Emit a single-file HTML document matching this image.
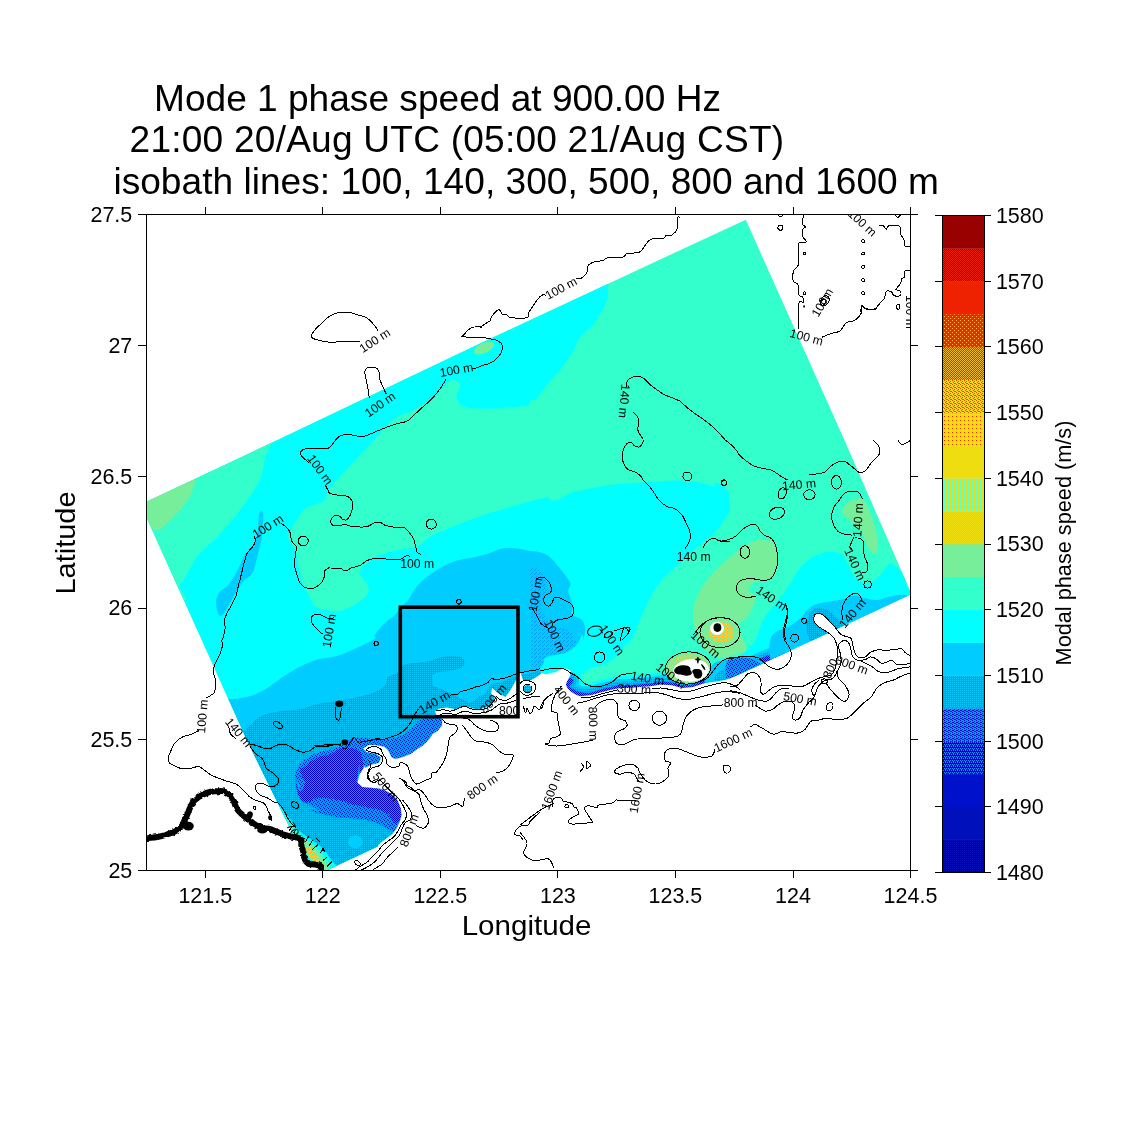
<!DOCTYPE html>
<html><head><meta charset="utf-8"><title>Mode 1 phase speed</title>
<style>html,body{margin:0;padding:0;background:#fff}svg{display:block;will-change:transform}</style></head>
<body>
<svg width="1125" height="1125" viewBox="0 0 1125 1125" font-family="'Liberation Sans', Arial, sans-serif">
<rect width="1125" height="1125" fill="#fff"/>
<defs>
<clipPath id="ax"><rect x="146.5" y="214.5" width="764.0" height="656.0"/></clipPath>
<clipPath id="dom"><path d="M140.7 504.5 L277.6 440.0 L480.0 343.4 L530.0 320.3 L680.0 250.2 L745.8 219.8 L844.4 440.0 L911.5 594.0 L898.9 600.0 L730.0 678.6 L379.6 845.5 L336.9 865.6 L310.0 878.5 L289.6 827.1 L246.8 740.0 L201.8 640.0Z"/></clipPath>
<filter id="rough" x="-5%" y="-5%" width="110%" height="110%"><feTurbulence type="fractalNoise" baseFrequency="0.3" numOctaves="2" seed="7" result="n"/><feDisplacementMap in="SourceGraphic" in2="n" scale="3.2" xChannelSelector="R" yChannelSelector="G"/></filter>
<pattern id="dB2" width="2" height="2" patternUnits="userSpaceOnUse"><rect width="2" height="2" fill="#0099ff"/><rect x="0" y="0" width="1" height="1" fill="#00ccff"/></pattern>
<pattern id="dB1" width="4" height="4" patternUnits="userSpaceOnUse"><rect width="4" height="4" fill="#00ccff"/><rect x="0" y="0" width="1" height="1" fill="#0099ff"/><rect x="2" y="2" width="1" height="1" fill="#0099ff"/><rect x="3" y="1" width="1" height="1" fill="#0099ff"/></pattern>
<pattern id="dB3" width="4" height="4" patternUnits="userSpaceOnUse"><rect width="4" height="4" fill="#0099ff"/><rect x="0" y="0" width="1" height="1" fill="#0000cc"/><rect x="2" y="1" width="1" height="1" fill="#0000cc"/><rect x="1" y="2" width="1" height="1" fill="#0000cc"/><rect x="3" y="3" width="1" height="1" fill="#0000cc"/></pattern>
<pattern id="dB4" width="4" height="4" patternUnits="userSpaceOnUse"><rect width="4" height="4" fill="#0099ff"/><rect x="0" y="0" width="1" height="1" fill="#0000cc"/><rect x="2" y="0" width="1" height="1" fill="#0000cc"/><rect x="1" y="1" width="1" height="1" fill="#0000cc"/><rect x="3" y="1" width="1" height="1" fill="#0000cc"/><rect x="0" y="2" width="1" height="1" fill="#0000cc"/><rect x="2" y="2" width="1" height="1" fill="#0000cc"/><rect x="1" y="3" width="1" height="1" fill="#0000cc"/><rect x="3" y="3" width="1" height="1" fill="#0000cc"/></pattern>
<pattern id="dY" width="4" height="4" patternUnits="userSpaceOnUse"><rect width="4" height="4" fill="#77ee99"/><rect x="0" y="0" width="1" height="1" fill="#ffcc33"/><rect x="2" y="0" width="1" height="1" fill="#ffcc33"/><rect x="1" y="1" width="1" height="1" fill="#ffcc33"/><rect x="3" y="2" width="1" height="1" fill="#ffcc33"/><rect x="1" y="3" width="1" height="1" fill="#ffcc33"/><rect x="2" y="2" width="1" height="1" fill="#ffcc33"/></pattern>
<pattern id="c1" width="2" height="2" patternUnits="userSpaceOnUse"><rect width="2" height="2" fill="#000099"/><rect x="0" y="0" width="1" height="1" fill="#0011bb"/></pattern>
<pattern id="c4" width="4" height="4" patternUnits="userSpaceOnUse"><rect width="4" height="4" fill="#0000cc"/><rect x="0" y="0" width="1" height="1" fill="#0099ff"/><rect x="2" y="0" width="1" height="1" fill="#0099ff"/><rect x="1" y="2" width="1" height="1" fill="#0099ff"/><rect x="3" y="2" width="1" height="1" fill="#0099ff"/><rect x="1" y="1" width="1" height="1" fill="#0099ff"/></pattern>
<pattern id="c5" width="4" height="4" patternUnits="userSpaceOnUse"><rect width="4" height="4" fill="#0099ff"/><rect x="0" y="0" width="1" height="1" fill="#0000cc"/><rect x="2" y="1" width="1" height="1" fill="#0000cc"/><rect x="1" y="2" width="1" height="1" fill="#0000cc"/><rect x="3" y="3" width="1" height="1" fill="#0000cc"/><rect x="2" y="3" width="1" height="1" fill="#0000cc"/><rect x="0" y="2" width="1" height="1" fill="#0000cc"/></pattern>
<pattern id="c11" width="2" height="2" patternUnits="userSpaceOnUse"><rect width="2" height="2" fill="#77ee99"/><rect x="0" y="0" width="1" height="1" fill="#eedd11"/><rect x="1" y="1" width="1" height="1" fill="#eedd11"/></pattern>
<pattern id="c12" width="4" height="2" patternUnits="userSpaceOnUse"><rect width="4" height="2" fill="#eedd11"/><rect x="0" y="0" width="1" height="1" fill="#55ffcc"/><rect x="2" y="1" width="1" height="1" fill="#55ffcc"/></pattern>
<pattern id="c14" width="4" height="4" patternUnits="userSpaceOnUse"><rect width="4" height="4" fill="#eedd11"/><rect x="0" y="0" width="1" height="1" fill="#ee2200"/></pattern>
<pattern id="c15" width="4" height="4" patternUnits="userSpaceOnUse"><rect width="4" height="4" fill="#eedd11"/><rect x="0" y="0" width="1" height="1" fill="#ee4400"/><rect x="2" y="1" width="1" height="1" fill="#ee4400"/><rect x="1" y="2" width="1" height="1" fill="#ee4400"/><rect x="3" y="3" width="1" height="1" fill="#ee4400"/><rect x="2" y="3" width="1" height="1" fill="#ee4400"/></pattern>
<pattern id="c16" width="2" height="2" patternUnits="userSpaceOnUse"><rect width="2" height="2" fill="#ee2200"/><rect x="0" y="0" width="1" height="1" fill="#eebb22"/><rect x="1" y="1" width="1" height="1" fill="#eebb22"/></pattern>
<pattern id="c17" width="4" height="4" patternUnits="userSpaceOnUse"><rect width="4" height="4" fill="#ee2200"/><rect x="0" y="0" width="1" height="1" fill="#ffcc00"/><rect x="2" y="2" width="1" height="1" fill="#ffcc00"/></pattern>
<pattern id="c19" width="2" height="2" patternUnits="userSpaceOnUse"><rect width="2" height="2" fill="#990000"/><rect x="0" y="0" width="1" height="1" fill="#ee2200"/><rect x="1" y="1" width="1" height="1" fill="#ee2200"/></pattern>
</defs>
<g clip-path="url(#ax)">
<g clip-path="url(#dom)">
<rect x="100" y="200" width="900" height="700" fill="#33ffcc"/>
<path d="M100.0 520.0 C181.3 477.0 523.3 301.4 608.0 262.0 C692.7 222.6 608.1 277.6 608.0 283.8 C607.9 289.9 608.0 294.6 607.1 298.9 C606.2 303.2 604.9 305.4 602.7 309.6 C600.4 313.7 597.6 319.0 593.8 323.8 C589.9 328.5 583.1 333.3 579.6 338.0 C576.0 342.7 575.7 346.9 572.4 352.2 C569.2 357.6 564.1 364.7 560.0 370.0 C555.9 375.3 551.4 379.5 547.6 384.2 C543.7 389.0 539.9 394.1 536.9 398.4 C533.9 402.7 528.0 393.9 529.8 410.0 C531.6 426.1 540.3 481.5 547.8 495.1 C555.2 508.7 565.6 493.0 574.4 491.6 C583.3 490.1 592.2 487.6 601.1 486.2 C610.0 484.9 618.9 484.3 627.8 483.6 C636.7 482.8 647.0 482.3 654.4 481.8 C661.9 481.3 666.3 480.7 672.2 480.5 C678.1 480.4 684.1 480.2 690.0 480.9 C695.9 481.5 702.4 482.7 707.8 484.4 C713.1 486.2 718.4 488.9 722.0 491.6 C725.6 494.2 727.8 497.2 729.1 500.4 C730.4 503.7 730.3 508.7 730.0 511.1 C729.7 513.5 728.7 512.6 727.3 514.7 C726.0 516.7 724.1 520.6 722.0 523.6 C719.9 526.5 717.9 529.5 714.9 532.4 C711.9 535.4 707.8 538.4 704.2 541.3 C700.7 544.3 697.1 547.0 693.6 550.2 C690.0 553.5 686.4 557.6 682.9 560.9 C679.3 564.1 675.8 566.5 672.2 569.8 C668.7 573.0 664.8 576.6 661.6 580.4 C658.3 584.3 655.3 588.4 652.7 592.9 C650.0 597.3 647.6 602.7 645.6 607.1 C643.5 611.6 642.0 615.4 640.2 619.6 C638.4 623.7 636.4 628.6 634.9 632.0 C633.4 635.4 632.8 637.8 631.3 640.0 C629.8 642.2 627.6 643.0 625.8 645.0 C624.0 647.0 622.5 649.6 620.4 652.0 C618.3 654.4 616.0 657.0 613.3 659.1 C610.6 661.2 607.9 662.9 604.4 664.4 C600.9 665.9 595.5 666.5 592.0 668.0 C588.5 669.5 585.9 671.0 583.1 673.3 C580.3 675.6 575.5 674.2 575.0 682.0 C574.5 689.8 575.8 707.0 580.0 720.0 C584.2 733.0 645.5 730.0 600.0 760.0 C554.5 790.0 387.0 940.0 307.0 900.0 C227.0 860.0 154.5 583.3 120.0 520.0 C85.5 456.7 18.7 563.0 100.0 520.0Z" fill="#00ffff"/>
<path d="M120.0 500.0 C138.7 471.7 246.9 439.1 272.0 430.0 C297.1 420.9 271.6 440.7 270.4 445.3 C269.3 450.0 266.6 452.7 265.1 457.8 C263.6 462.8 263.3 470.2 261.6 475.6 C259.8 480.9 257.1 485.3 254.4 489.8 C251.8 494.2 248.5 498.1 245.6 502.2 C242.6 506.4 239.9 510.5 236.7 514.7 C233.4 518.8 229.6 523.0 226.0 527.1 C222.4 531.3 218.6 536.3 215.3 539.6 C212.1 542.8 209.4 544.0 206.4 546.7 C203.5 549.3 200.2 552.0 197.6 555.6 C194.9 559.1 192.8 563.9 190.4 568.0 C188.1 572.1 185.1 577.2 183.3 580.4 C181.6 583.7 179.5 584.2 179.8 587.6 C180.1 590.9 188.4 598.4 185.1 600.4 C181.8 602.5 170.9 616.7 160.0 600.0 C149.1 583.3 101.3 528.3 120.0 500.0Z" fill="#33ffcc"/>
<path d="M330.9 486.7 C324.0 495.1 327.9 497.3 323.8 500.9 C319.6 504.4 310.7 504.4 306.0 508.0 C301.3 511.6 298.3 517.5 295.3 522.2 C292.4 527.0 288.2 531.7 288.2 536.4 C288.2 541.2 293.6 545.3 295.3 550.7 C297.1 556.0 297.7 563.1 298.9 568.4 C300.1 573.8 300.7 577.9 302.4 582.7 C304.2 587.4 307.2 592.7 309.6 596.9 C311.9 601.0 311.9 605.2 316.7 607.6 C321.4 609.9 331.5 611.7 338.0 611.1 C344.5 610.5 350.7 607.0 355.8 604.0 C360.8 601.0 366.4 596.9 368.2 593.3 C370.0 589.8 367.9 586.2 366.4 582.7 C365.0 579.1 358.1 576.1 359.3 572.0 C360.5 567.9 367.6 561.3 373.6 557.8 C379.5 554.2 387.8 552.4 394.9 550.7 C402.0 548.9 410.3 549.5 416.2 547.1 C422.1 544.7 423.9 540.0 430.4 536.4 C437.0 532.9 446.4 529.3 455.3 525.8 C464.2 522.2 473.1 518.7 483.8 515.1 C494.4 511.6 509.0 507.4 519.3 504.4 C529.7 501.5 539.9 499.2 546.0 497.3 C552.1 495.4 551.2 509.2 556.0 493.0 C560.8 476.8 578.5 414.7 575.0 400.0 C571.5 385.3 547.8 403.6 535.0 405.0 C522.2 406.4 508.7 407.9 498.0 408.4 C487.3 408.9 477.0 408.7 470.7 408.0 C464.4 407.3 462.4 406.5 460.0 404.4 C457.6 402.3 456.4 398.9 456.4 395.6 C456.4 392.4 460.6 387.6 460.0 384.9 C459.4 382.2 455.9 379.0 452.9 379.6 C449.9 380.2 446.3 384.8 442.2 388.4 C438.1 391.9 433.3 397.0 428.0 400.9 C422.7 404.8 416.1 408.4 410.2 411.6 C404.3 414.9 399.9 414.0 392.4 420.4 C384.9 426.8 375.3 439.0 365.0 450.0 C354.7 461.0 337.8 478.2 330.9 486.7Z" fill="#33ffcc"/>
<path d="M755.6 640.0 C758.5 631.1 760.6 624.4 764.4 617.8 C768.3 611.1 774.2 605.9 778.7 600.0 C783.1 594.1 787.6 587.6 791.1 582.2 C794.7 576.9 796.4 572.1 800.0 568.0 C803.6 563.9 808.0 560.0 812.4 557.3 C816.9 554.7 821.9 552.6 826.7 552.0 C831.4 551.4 837.3 551.7 840.9 553.8 C844.4 555.9 845.9 560.9 848.0 564.4 C850.1 568.0 851.0 572.1 853.3 575.1 C855.7 578.1 859.3 581.0 862.2 582.2 C865.2 583.4 868.1 583.4 871.1 582.2 C874.1 581.0 877.0 578.1 880.0 575.1 C883.0 572.1 885.9 565.6 888.9 564.4 C891.9 563.3 895.1 565.6 897.8 568.0 C900.4 570.4 902.8 574.8 904.9 578.7 C907.0 582.5 905.5 587.6 910.2 591.1 C915.0 594.7 929.5 586.7 933.3 600.0 C937.2 613.3 964.4 659.3 933.3 671.1 C902.2 683.0 776.3 676.3 746.7 671.1 C717.0 665.9 752.6 648.9 755.6 640.0Z" fill="#00ffff"/>
<path d="M714.7 484.4 C716.4 480.9 721.2 484.7 723.6 486.2 C725.9 487.7 728.3 490.4 728.9 493.3 C729.5 496.3 728.6 501.0 727.1 504.0 C725.6 507.0 722.4 510.5 720.0 511.1 C717.6 511.7 713.8 512.0 712.9 507.6 C712.0 503.1 712.9 488.0 714.7 484.4Z" fill="#00ffff"/>
<path d="M137.1 505.1 C144.8 498.4 181.3 480.5 190.4 478.2 C199.6 476.0 193.4 487.0 192.2 491.6 C191.0 496.1 186.9 501.0 183.3 505.8 C179.8 510.5 174.7 516.1 170.9 520.0 C167.0 523.9 163.2 527.4 160.2 528.9 C157.3 530.4 155.8 530.7 153.1 528.9 C150.4 527.1 146.9 522.2 144.2 518.2 C141.6 514.3 129.4 511.7 137.1 505.1Z" fill="#77ee99"/>
<path d="M693.3 612.0 C693.8 605.3 696.0 599.1 698.7 593.3 C701.3 587.6 704.9 582.7 709.3 577.3 C713.8 572.0 720.0 566.2 725.3 561.3 C730.7 556.4 736.0 551.6 741.3 548.0 C746.7 544.4 752.4 541.3 757.3 540.0 C762.2 538.7 771.0 542.6 770.7 540.0 C770.4 537.4 757.2 525.7 755.6 524.4 C753.9 523.2 758.2 530.2 760.9 532.4 C763.6 534.7 768.9 534.8 771.6 537.8 C774.2 540.7 775.9 545.8 776.9 550.2 C777.9 554.7 778.4 560.0 777.8 564.4 C777.2 568.9 775.6 574.2 773.3 576.9 C771.1 579.6 767.7 579.6 764.4 580.4 C761.2 581.3 756.4 580.4 753.8 582.2 C751.1 584.0 748.1 588.7 748.4 591.1 C748.7 593.5 755.0 593.5 755.6 596.4 C756.1 599.4 753.8 605.0 752.0 608.9 C750.2 612.7 747.3 616.6 744.9 619.6 C742.5 622.5 737.5 621.7 737.8 626.7 C738.1 631.6 747.4 644.7 746.7 649.3 C745.9 654.0 737.8 653.3 733.3 654.7 C728.9 656.0 724.9 658.2 720.0 657.3 C715.1 656.4 708.0 653.3 704.0 649.3 C700.0 645.3 697.8 639.6 696.0 633.3 C694.2 627.1 692.9 618.7 693.3 612.0Z" fill="#77ee99"/>
<path d="M844.4 505.8 C846.5 503.4 851.9 499.6 855.1 498.7 C858.4 497.8 861.3 497.8 864.0 500.4 C866.7 503.1 869.0 509.3 871.1 514.7 C873.2 520.0 875.3 527.1 876.4 532.4 C877.6 537.8 878.5 543.1 878.2 546.7 C877.9 550.2 876.4 553.8 874.7 553.8 C872.9 553.8 869.6 549.9 867.6 546.7 C865.5 543.4 864.3 537.8 862.2 534.2 C860.1 530.7 857.5 528.0 855.1 525.3 C852.7 522.7 850.1 520.3 848.0 518.2 C845.9 516.1 843.3 515.0 842.7 512.9 C842.1 510.8 842.4 508.1 844.4 505.8Z" fill="#77ee99"/>
<ellipse cx="484.0" cy="348.0" rx="11.0" ry="5.0" transform="rotate(-25.0 484.0 348.0)" fill="#77ee99"/>
<path d="M225.3 698.7 C233.1 699.8 240.1 698.4 246.7 696.9 C253.2 695.4 258.5 693.0 264.4 689.8 C270.4 686.5 276.3 681.2 282.2 677.3 C288.1 673.5 294.1 669.6 300.0 666.7 C305.9 663.7 311.1 661.5 317.8 659.6 C324.4 657.6 330.9 658.4 340.0 655.1 C349.1 651.9 366.9 643.3 372.7 640.0 C378.4 636.7 373.3 637.5 374.4 635.6 C375.6 633.6 377.7 630.8 379.8 628.4 C381.9 626.1 384.2 623.7 386.9 621.3 C389.6 619.0 393.4 616.6 395.8 614.2 C398.1 611.9 399.0 609.5 401.1 607.1 C403.2 604.7 406.1 602.7 408.2 600.0 C410.3 597.3 411.5 594.1 413.6 591.1 C415.6 588.1 418.0 584.9 420.7 582.2 C423.3 579.6 426.3 577.5 429.6 575.1 C432.8 572.7 436.7 570.1 440.2 568.0 C443.8 565.9 447.0 564.1 450.9 562.7 C454.7 561.2 458.9 560.1 463.3 559.1 C467.8 558.1 473.1 557.5 477.6 556.4 C482.0 555.4 485.9 554.2 490.0 552.9 C494.1 551.6 498.0 549.2 502.4 548.4 C506.9 547.7 512.1 548.0 516.7 548.4 C521.3 548.9 526.3 550.5 530.0 551.1 C533.7 551.7 535.9 551.3 538.9 552.0 C541.9 552.7 544.8 553.5 547.8 555.6 C550.7 557.6 553.0 560.0 556.7 564.4 C560.4 568.9 568.1 577.8 570.0 582.2 C571.9 586.7 567.8 587.3 568.2 591.1 C568.7 595.0 572.1 601.5 572.7 605.3 C573.3 609.2 570.3 611.9 571.8 614.2 C573.3 616.6 579.3 617.2 581.6 619.6 C583.8 621.9 584.8 625.0 585.1 628.4 C585.4 631.9 583.8 639.0 583.3 640.0 C582.8 641.0 583.1 633.9 582.2 634.4 C581.3 634.9 579.9 640.6 577.8 643.3 C575.7 646.0 572.8 648.6 569.8 650.4 C566.8 652.2 563.4 653.1 560.0 654.0 C556.6 654.9 552.0 654.9 549.3 655.8 C546.6 656.7 545.0 658.0 544.0 659.3 C543.0 660.6 543.8 662.3 543.1 663.8 C542.4 665.2 540.5 652.0 540.0 668.0 C539.5 684.0 578.8 721.3 540.0 760.0 C501.2 798.7 363.7 911.7 307.0 900.0 C250.3 888.3 213.6 723.6 200.0 690.0 C186.4 656.4 217.6 697.5 225.3 698.7Z" fill="#00ccff"/>
<path d="M261.6 511.1 C262.3 511.1 263.2 511.7 263.3 514.7 C263.5 517.6 262.7 524.7 262.4 528.9 C262.1 533.0 262.3 535.4 261.6 539.6 C260.8 543.7 259.2 549.0 258.0 553.8 C256.8 558.5 255.6 564.4 254.4 568.0 C253.3 571.6 252.7 573.0 250.9 575.1 C249.1 577.2 246.1 577.8 243.8 580.4 C241.4 583.1 239.0 587.3 236.7 591.1 C234.3 595.0 231.9 599.6 229.6 603.6 C227.2 607.6 224.4 613.5 222.4 615.1 C220.5 616.7 219.0 615.9 218.0 613.3 C217.0 610.8 215.8 603.7 216.2 600.0 C216.7 596.3 218.7 593.5 220.7 591.1 C222.6 588.7 225.4 588.4 227.8 585.8 C230.1 583.1 232.8 578.7 234.9 575.1 C237.0 571.6 238.4 568.0 240.2 564.4 C242.0 560.9 243.2 557.0 245.6 553.8 C247.9 550.5 252.4 549.0 254.4 544.9 C256.5 540.7 257.3 533.9 258.0 528.9 C258.7 523.9 258.3 517.6 258.9 514.7 C259.5 511.7 260.8 511.1 261.6 511.1Z" fill="#00ccff"/>
<path d="M239.6 732.4 C245.9 733.0 247.6 727.4 250.2 725.3 C252.9 723.3 253.2 721.8 255.6 720.0 C257.9 718.2 260.0 716.1 264.4 714.7 C268.9 713.2 276.3 712.0 282.2 711.1 C288.1 710.2 294.1 710.5 300.0 709.3 C305.9 708.1 311.1 705.5 317.8 704.0 C324.4 702.5 333.3 701.6 340.0 700.4 C346.7 699.3 352.4 698.1 357.8 696.9 C363.1 695.7 367.6 695.1 372.0 693.3 C376.4 691.6 381.8 688.9 384.4 686.2 C387.1 683.6 385.6 679.7 388.0 677.3 C390.4 675.0 396.0 674.1 398.7 672.0 C401.3 669.9 401.3 666.4 404.0 664.9 C406.7 663.4 410.5 663.7 414.7 663.1 C418.8 662.5 424.7 662.2 428.9 661.3 C433.0 660.4 436.0 658.7 439.6 657.8 C443.1 656.9 446.7 656.1 450.2 656.0 C453.8 655.9 458.5 656.0 460.9 656.9 C463.3 657.8 464.1 659.7 464.4 661.3 C464.7 663.0 464.1 665.2 462.7 666.7 C461.2 668.1 458.2 669.3 455.6 670.2 C452.9 671.1 449.3 671.1 446.7 672.0 C444.0 672.9 441.9 673.5 439.6 675.6 C437.2 677.6 432.4 682.4 432.4 684.4 C432.4 686.5 437.2 686.8 439.6 688.0 C441.9 689.2 444.3 690.4 446.7 691.6 C449.0 692.7 450.8 693.6 453.8 695.1 C456.7 696.6 461.5 699.3 464.4 700.4 C467.4 701.6 469.2 702.8 471.6 702.2 C473.9 701.6 476.3 698.4 478.7 696.9 C481.0 695.4 483.7 695.4 485.8 693.3 C487.9 691.3 488.7 686.2 491.1 684.4 C493.5 682.7 495.6 684.1 500.0 682.7 C504.4 681.2 513.0 677.0 517.8 675.6 C522.5 674.1 524.7 674.4 528.4 673.8 C532.1 673.2 538.1 669.9 540.0 672.0 C541.9 674.1 540.0 681.6 540.0 686.2 C540.0 690.9 540.0 687.7 540.0 700.0 C540.0 712.3 580.0 726.7 540.0 760.0 C500.0 793.3 354.7 906.3 300.0 900.0 C245.3 893.7 222.1 749.9 212.0 722.0 C201.9 694.1 233.2 731.9 239.6 732.4Z" fill="url(#dB2)"/>
<path d="M530.9 568.0 C532.4 567.1 536.4 568.0 538.9 569.8 C541.4 571.6 544.5 575.4 546.0 578.7 C547.5 581.9 548.1 585.8 547.8 589.3 C547.5 592.9 545.4 596.7 544.2 600.0 C543.0 603.3 540.4 605.9 540.7 608.9 C541.0 611.9 543.9 614.8 546.0 617.8 C548.1 620.7 550.1 624.9 553.1 626.7 C556.1 628.4 560.5 627.3 563.8 628.4 C567.0 629.6 570.9 631.9 572.7 633.8 C574.4 635.7 573.7 638.5 574.4 640.0 C575.2 641.5 577.8 641.3 577.0 643.0 C576.2 644.7 572.6 648.6 569.8 650.4 C567.0 652.2 563.4 653.1 560.0 654.0 C556.6 654.9 552.0 654.9 549.3 655.8 C546.6 656.7 545.0 658.0 544.0 659.3 C543.0 660.6 543.8 662.3 543.1 663.8 C542.4 665.2 541.9 667.3 540.0 668.0 C538.1 668.7 533.5 677.7 532.0 668.0 C530.5 658.3 531.3 625.5 531.0 610.0 C530.7 594.5 530.0 582.0 530.0 575.0 C530.0 568.0 529.4 568.9 530.9 568.0Z" fill="url(#dB1)"/>
<path d="M340.0 746.7 C337.8 747.3 331.0 749.0 326.7 750.2 C322.4 751.4 318.1 752.0 314.2 753.8 C310.4 755.6 306.5 758.2 303.6 760.9 C300.6 763.6 297.8 766.8 296.4 769.8 C295.1 772.7 295.0 776.0 295.6 778.7 C296.1 781.3 299.6 783.4 300.0 785.8 C300.4 788.1 297.9 790.5 298.2 792.9 C298.5 795.3 299.7 797.9 301.8 800.0 C303.9 802.1 307.7 803.6 310.7 805.3 C313.6 807.1 319.9 809.9 319.6 810.7 C319.2 811.4 307.9 809.2 308.4 809.8 C309.0 810.3 317.9 812.9 322.7 814.0 C327.4 815.2 329.8 815.9 336.9 816.9 C344.0 817.8 358.2 818.5 365.3 819.7 C372.4 820.9 374.8 822.1 379.6 824.0 C384.3 825.9 389.0 831.1 393.8 831.1 C398.5 831.1 405.6 831.1 408.0 824.0 C410.4 816.9 412.7 796.7 408.0 788.4 C403.3 780.1 386.2 779.0 379.6 774.2 C372.9 769.5 371.2 757.8 368.2 760.0 C365.1 762.2 364.3 783.9 361.3 787.6 C358.4 791.3 351.9 785.5 350.7 782.2 C349.5 779.0 350.1 771.0 354.2 768.0 C358.4 765.0 368.4 765.3 375.6 764.4 C382.7 763.6 388.6 765.6 396.9 762.7 C405.2 759.7 417.0 753.2 425.3 746.7 C433.6 740.1 444.3 728.3 446.7 723.6 C449.0 718.8 443.1 719.1 439.6 718.2 C436.0 717.3 428.9 717.6 425.3 718.2 C421.8 718.8 420.6 720.0 418.2 721.8 C415.9 723.6 414.1 726.5 411.1 728.9 C408.1 731.3 404.0 734.4 400.4 736.0 C396.9 737.6 393.9 738.1 389.8 738.7 C385.6 739.3 380.0 739.7 375.6 739.6 C371.1 739.4 367.3 737.8 363.1 737.8 C359.0 737.8 354.5 738.1 350.7 739.6 C346.8 741.0 341.8 745.5 340.0 746.7 C338.2 747.9 342.2 746.1 340.0 746.7Z" fill="url(#dB3)"/>
<path d="M340.0 748.4 C335.7 749.0 335.7 752.3 332.0 753.8 C328.3 755.3 321.9 755.6 317.8 757.3 C313.6 759.1 310.1 762.1 307.1 764.4 C304.1 766.8 300.3 768.6 300.0 771.6 C299.7 774.5 305.3 779.0 305.3 782.2 C305.3 785.5 301.6 791.3 300.0 791.1 C298.4 791.0 295.9 780.6 295.6 781.3 C295.4 782.1 296.8 792.0 298.5 795.6 C300.1 799.1 302.8 802.2 305.6 802.7 C308.4 803.1 311.5 799.1 315.6 798.4 C319.6 797.7 325.0 797.9 329.8 798.4 C334.5 798.9 340.4 800.3 344.0 801.2 C347.6 802.2 347.6 803.1 351.1 804.1 C354.7 805.0 360.6 806.0 365.3 806.9 C370.1 807.9 375.8 808.6 379.6 809.8 C383.3 811.0 386.0 812.4 388.1 814.0 C390.2 815.7 390.9 818.1 392.4 819.7 C393.8 821.4 395.2 824.7 396.6 824.0 C398.0 823.3 400.7 819.3 400.9 815.5 C401.1 811.7 400.4 805.3 398.0 801.2 C395.7 797.2 391.2 793.5 386.7 791.3 C382.2 789.0 375.9 789.2 371.0 787.7 C366.2 786.3 359.6 785.0 357.5 782.8 C355.4 780.5 357.9 778.0 358.2 774.2 C358.6 770.4 359.4 758.7 359.6 760.0 C359.9 761.3 359.0 781.5 359.6 782.2 C360.1 783.0 363.4 769.8 363.1 764.4 C362.8 759.1 361.6 752.9 357.8 750.2 C353.9 747.6 344.3 747.9 340.0 748.4Z" fill="url(#dB4)"/>
<ellipse cx="355.4" cy="841.8" rx="7.5" ry="6.5" transform="rotate(0.0 355.4 841.8)" fill="#00ccff"/>
<path d="M432.4 675.6 C433.3 673.5 436.6 672.7 439.6 672.0 C442.5 671.3 446.7 671.7 450.2 671.1 C453.8 670.5 457.6 668.6 460.9 668.4 C464.1 668.3 467.1 669.0 469.8 670.2 C472.4 671.4 474.8 673.5 476.9 675.6 C479.0 677.6 481.6 680.0 482.2 682.7 C482.8 685.3 481.9 688.9 480.4 691.6 C479.0 694.2 476.0 697.5 473.3 698.7 C470.7 699.9 467.7 699.6 464.4 698.7 C461.2 697.8 457.3 694.8 453.8 693.3 C450.2 691.9 446.4 691.3 443.1 689.8 C439.9 688.3 436.0 686.8 434.2 684.4 C432.4 682.1 431.6 677.6 432.4 675.6Z" fill="#00ccff"/>
<path d="M570.2 680.9 C569.6 681.8 566.4 684.4 566.7 686.2 C567.0 688.0 569.6 690.1 572.0 691.6 C574.4 693.0 577.6 694.5 580.9 695.1 C584.1 695.7 588.3 695.6 591.6 695.1 C594.8 694.7 597.2 693.3 600.4 692.4 C603.7 691.6 607.9 690.5 611.1 689.8 C614.4 689.0 617.0 688.3 620.0 688.0 C623.0 687.7 625.6 688.1 628.9 688.0 C632.1 687.9 636.0 687.4 639.6 687.1 C643.1 686.8 646.7 686.7 650.2 686.2 C653.8 685.8 657.3 684.6 660.9 684.4 C664.4 684.3 668.0 684.7 671.6 685.3 C675.1 685.9 678.7 687.7 682.2 688.0 C685.8 688.3 689.3 687.9 692.9 687.1 C696.4 686.4 700.0 684.4 703.6 683.6 C707.1 682.7 710.7 682.4 714.2 681.8 C717.8 681.2 721.3 680.9 724.9 680.0 C728.4 679.1 733.0 677.3 735.6 676.4 C738.1 675.6 737.4 676.4 740.0 674.7 C742.6 672.9 744.1 669.6 751.3 665.8 C758.6 661.9 778.0 653.9 783.3 651.6" fill="none" stroke="#00ffff" stroke-linejoin="round" stroke-linecap="round" stroke-width="24.0"/>
<path d="M570.2 680.9 C569.6 681.8 566.4 684.4 566.7 686.2 C567.0 688.0 569.6 690.1 572.0 691.6 C574.4 693.0 577.6 694.5 580.9 695.1 C584.1 695.7 588.3 695.6 591.6 695.1 C594.8 694.7 597.2 693.3 600.4 692.4 C603.7 691.6 607.9 690.5 611.1 689.8 C614.4 689.0 617.0 688.3 620.0 688.0 C623.0 687.7 625.6 688.1 628.9 688.0 C632.1 687.9 636.0 687.4 639.6 687.1 C643.1 686.8 646.7 686.7 650.2 686.2 C653.8 685.8 657.3 684.6 660.9 684.4 C664.4 684.3 668.0 684.7 671.6 685.3 C675.1 685.9 678.7 687.7 682.2 688.0 C685.8 688.3 689.3 687.9 692.9 687.1 C696.4 686.4 700.0 684.4 703.6 683.6 C707.1 682.7 710.7 682.4 714.2 681.8 C717.8 681.2 721.3 680.9 724.9 680.0 C728.4 679.1 733.0 677.3 735.6 676.4 C738.1 675.6 737.4 676.4 740.0 674.7 C742.6 672.9 744.1 669.6 751.3 665.8 C758.6 661.9 778.0 653.9 783.3 651.6" fill="none" stroke="#00ccff" stroke-linejoin="round" stroke-linecap="round" stroke-width="18.0"/>
<path d="M570.2 680.9 C569.6 681.8 566.4 684.4 566.7 686.2 C567.0 688.0 569.6 690.1 572.0 691.6 C574.4 693.0 577.6 694.5 580.9 695.1 C584.1 695.7 588.3 695.6 591.6 695.1 C594.8 694.7 597.2 693.3 600.4 692.4 C603.7 691.6 607.9 690.5 611.1 689.8 C614.4 689.0 617.0 688.3 620.0 688.0 C623.0 687.7 625.6 688.1 628.9 688.0 C632.1 687.9 636.0 687.4 639.6 687.1 C643.1 686.8 646.7 686.7 650.2 686.2 C653.8 685.8 657.3 684.6 660.9 684.4 C664.4 684.3 668.0 684.7 671.6 685.3 C675.1 685.9 678.7 687.7 682.2 688.0 C685.8 688.3 689.3 687.9 692.9 687.1 C696.4 686.4 700.0 684.4 703.6 683.6 C707.1 682.7 710.7 682.4 714.2 681.8 C717.8 681.2 721.3 680.9 724.9 680.0 C728.4 679.1 733.0 677.3 735.6 676.4 C738.1 675.6 737.4 676.4 740.0 674.7 C742.6 672.9 744.1 669.6 751.3 665.8 C758.6 661.9 778.0 653.9 783.3 651.6" fill="none" stroke="url(#dB2)" stroke-linejoin="round" stroke-linecap="round" stroke-width="12.5"/>
<path d="M570.2 680.9 C569.6 681.8 566.4 684.4 566.7 686.2 C567.0 688.0 569.6 690.1 572.0 691.6 C574.4 693.0 577.6 694.5 580.9 695.1 C584.1 695.7 588.3 695.6 591.6 695.1 C594.8 694.7 597.2 693.3 600.4 692.4 C603.7 691.6 607.9 690.5 611.1 689.8 C614.4 689.0 617.0 688.3 620.0 688.0 C623.0 687.7 625.6 688.1 628.9 688.0 C632.1 687.9 636.0 687.4 639.6 687.1 C643.1 686.8 646.7 686.7 650.2 686.2 C653.8 685.8 657.3 684.6 660.9 684.4 C664.4 684.3 668.0 684.7 671.6 685.3 C675.1 685.9 678.7 687.7 682.2 688.0 C685.8 688.3 689.3 687.9 692.9 687.1 C696.4 686.4 700.0 684.4 703.6 683.6 C707.1 682.7 710.7 682.4 714.2 681.8 C717.8 681.2 721.3 680.9 724.9 680.0 C728.4 679.1 733.0 677.3 735.6 676.4 C738.1 675.6 737.4 676.4 740.0 674.7 C742.6 672.9 744.1 669.6 751.3 665.8 C758.6 661.9 778.0 653.9 783.3 651.6" fill="none" stroke="url(#dB4)" stroke-linejoin="round" stroke-linecap="round" stroke-width="5.5"/>
<path d="M712.0 665.3 C715.6 660.9 720.4 661.3 725.3 660.0 C730.2 658.7 736.0 657.3 741.3 657.3 C746.7 657.3 752.4 658.7 757.3 660.0 C762.2 661.3 772.4 662.2 770.7 665.3 C768.9 668.4 753.3 675.6 746.7 678.7 C740.0 681.8 736.0 682.7 730.7 684.0 C725.3 685.3 719.1 686.2 714.7 686.7 C710.2 687.1 704.4 690.2 704.0 686.7 C703.6 683.1 708.4 669.8 712.0 665.3Z" fill="#00ccff"/>
<path d="M717.3 673.3 C720.4 670.4 727.6 668.0 733.3 666.7 C739.1 665.3 747.1 664.9 752.0 665.3 C756.9 665.8 764.0 667.3 762.7 669.3 C761.3 671.3 749.8 675.1 744.0 677.3 C738.2 679.6 732.9 681.6 728.0 682.7 C723.1 683.8 716.4 685.6 714.7 684.0 C712.9 682.4 714.2 676.2 717.3 673.3Z" fill="url(#dB2)"/>
<path d="M770.9 660.4 C768.7 654.8 769.1 645.6 770.0 640.9 C770.9 636.1 773.1 634.4 776.2 632.0 C779.3 629.6 784.5 629.0 788.7 626.7 C792.8 624.3 798.1 620.4 801.1 617.8 C804.1 615.1 804.4 612.7 806.4 610.7 C808.5 608.6 810.9 606.7 813.6 605.3 C816.2 604.0 819.2 603.4 822.4 602.7 C825.7 601.9 829.6 601.5 833.1 600.9 C836.7 600.3 840.2 600.0 843.8 599.1 C847.3 598.2 850.9 595.7 854.4 595.6 C858.0 595.4 861.3 597.5 865.1 598.2 C869.0 599.0 873.4 600.3 877.6 600.0 C881.7 599.7 885.0 597.0 890.0 596.4 C895.0 595.9 904.8 592.9 907.8 596.4 C910.7 600.0 919.6 608.3 907.8 617.8 C895.9 627.3 857.4 643.9 836.7 653.3 C815.9 662.8 794.3 673.5 783.3 674.7 C772.4 675.9 773.1 666.1 770.9 660.4Z" fill="#00ccff"/>
<path d="M806.4 626.7 C806.4 623.7 807.5 620.3 808.2 617.8 C809.0 615.3 809.4 613.2 810.9 611.6 C812.4 609.9 814.9 608.5 817.1 608.0 C819.3 607.5 821.9 607.7 824.2 608.5 C826.6 609.3 829.0 610.8 831.3 612.8 C833.7 614.8 836.1 617.7 838.4 620.4 C840.8 623.2 847.0 626.7 845.6 629.3 C844.1 632.0 834.9 634.1 829.6 636.4 C824.2 638.8 817.1 643.7 813.6 643.6 C810.0 643.4 809.4 638.4 808.2 635.6 C807.0 632.7 806.4 629.6 806.4 626.7Z" fill="url(#dB2)"/>
<path d="M726.4 662.2 C728.2 657.9 736.5 658.4 740.7 657.8 C744.8 657.2 748.1 657.6 751.3 658.7 C754.6 659.7 759.3 661.9 760.2 664.0 C761.1 666.1 761.7 667.9 756.7 671.1 C751.6 674.4 735.0 685.0 730.0 683.6 C725.0 682.1 724.7 666.5 726.4 662.2Z" fill="url(#dB3)"/>
<path d="M280.0 806.9 C281.4 806.5 285.2 812.9 288.5 816.9 C291.9 820.9 296.1 827.3 299.9 831.1 C303.7 834.9 307.5 836.8 311.3 839.6 C315.1 842.5 319.3 844.9 322.7 848.2 C326.0 851.5 328.8 856.2 331.2 859.6 C333.6 862.9 338.3 866.0 336.9 868.1 C335.5 870.2 329.8 876.1 322.7 872.4 C315.6 868.6 301.3 854.1 294.2 845.3 C287.1 836.6 282.4 826.1 280.0 819.7 C277.6 813.3 278.6 807.4 280.0 806.9Z" fill="#00ffff"/>
<path d="M282.8 816.9 C283.8 815.9 290.4 824.5 294.2 828.3 C298.0 832.1 301.8 836.3 305.6 839.6 C309.4 843.0 313.4 844.9 317.0 848.2 C320.5 851.5 324.3 856.0 326.9 859.6 C329.5 863.1 333.6 867.6 332.6 869.5 C331.7 871.4 326.5 874.5 321.2 870.9 C316.0 867.4 306.8 854.3 301.3 848.2 C295.9 842.0 291.6 839.2 288.5 834.0 C285.5 828.7 281.9 817.8 282.8 816.9Z" fill="#33ffcc"/>
<path d="M301.3 839.6 C301.8 837.7 306.1 839.6 308.4 841.1 C310.8 842.5 313.2 845.3 315.6 848.2 C317.9 851.0 320.5 854.8 322.7 858.1 C324.8 861.5 328.6 866.1 328.4 868.1 C328.1 870.1 323.6 871.2 321.2 870.2 C318.9 869.3 316.7 865.4 314.1 862.4 C311.5 859.4 307.7 856.2 305.6 852.4 C303.5 848.7 300.9 841.5 301.3 839.6Z" fill="#77ee99"/>
<path d="M306.3 847.5 C307.0 846.5 309.6 846.9 311.3 848.2 C312.9 849.5 315.0 853.3 316.3 855.3 C317.6 857.3 319.7 859.4 319.1 860.3 C318.5 861.1 314.7 861.3 312.7 860.3 C310.7 859.2 308.4 856.0 307.3 853.9 C306.2 851.7 305.6 848.4 306.3 847.5Z" fill="url(#dY)"/>
<ellipse cx="719.9" cy="632.7" rx="19.5" ry="14.7" transform="rotate(0.0 719.9 632.7)" fill="#77ee99"/>
<ellipse cx="721.4" cy="632.3" rx="12.7" ry="10.3" transform="rotate(0.0 721.4 632.3)" fill="url(#dY)"/>
<ellipse cx="717.0" cy="628.3" rx="6.9" ry="6.6" transform="rotate(0.0 717.0 628.3)" fill="#ffffff"/>
<ellipse cx="688.1" cy="668.4" rx="22.5" ry="15.6" transform="rotate(-4.0 688.1 668.4)" fill="#77ee99"/>
<ellipse cx="688.5" cy="668.0" rx="20.5" ry="13.6" transform="rotate(-4.0 688.5 668.0)" fill="url(#dY)"/>
<ellipse cx="691.0" cy="670.4" rx="18.0" ry="11.2" transform="rotate(-6.0 691.0 670.4)" fill="#ffffff"/>
</g>
<path d="M378.1 845.3 L381.0 842.5 L386.7 838.2 L392.4 834.0 L396.6 828.3 L399.5 822.6 L401.6 815.5 L400.9 808.4 L398.0 801.2 L393.8 795.6 L386.7 791.3 L379.6 788.4 L371.0 787.7 L362.5 787.0 L357.5 782.8 L359.6 774.2 L365.3 765.7 L364.9 768.0 L372.0 764.4 L379.1 762.7 L380.9 757.3 L375.6 753.8 L366.7 752.0 L363.1 748.4 L368.4 744.9 L375.6 744.9 L384.4 746.7 L388.0 750.2 L391.6 757.3 L395.1 759.1 L402.2 757.3 L411.1 753.8 L418.2 748.4 L423.6 744.9 L428.9 739.6 L432.4 734.2 L437.8 730.7 L442.2 725.3 L442.2 719.1 L436.0 714.7 L435.1 711.1 L439.6 708.4 L446.7 707.6 L455.6 709.3 L462.7 706.7 L468.0 706.7 L475.1 709.3 L482.2 708.4 L489.3 705.8 L494.7 698.7 L491.1 693.3 L492.0 688.0 L496.4 691.6 L505.3 696.9 L510.7 689.8 L517.8 676.7 L520.4 672.2 L523.1 680.2 L529.3 681.1 L535.6 677.6 L538.2 675.8 L541.8 673.1 L546.2 674.4 L550.7 673.1 L555.1 672.2 L558.7 670.4 L562.2 669.1 L567.6 668.7 L571.1 671.3 L570.2 675.8 L567.6 680.2 L565.8 684.7 L567.6 688.2 L571.1 691.8 L575.6 694.4 L580.0 696.2 L591.6 695.1 L600.4 692.4 L611.1 689.8 L620.0 688.0 L628.9 688.0 L639.6 687.1 L650.2 686.2 L660.9 684.4 L671.6 685.3 L682.2 688.0 L692.9 687.1 L703.6 683.6 L714.2 681.8 L724.9 680.0 L735.6 676.4 L740.0 674.7 L760.0 672.0 L800.0 662.0 L800.0 900.0 L380.0 900.0Z" fill="#ffffff"/>
<path d="M813.6 617.8 C813.7 616.4 814.4 615.0 815.3 614.2 C816.2 613.5 817.4 613.0 818.9 613.3 C820.4 613.6 822.6 614.8 824.2 616.0 C825.9 617.2 827.2 619.0 828.7 620.4 C830.1 621.9 831.8 623.4 833.1 624.9 C834.4 626.4 835.5 627.9 836.7 629.3 C837.9 630.8 838.7 632.6 840.2 633.8 C841.7 635.0 843.2 635.7 845.6 636.4 C847.9 637.2 853.0 635.4 854.4 638.2 C855.9 641.0 857.4 650.8 854.4 653.3 C851.5 655.9 839.9 655.1 836.7 653.3 C833.4 651.6 836.1 645.9 834.9 642.7 C833.7 639.4 831.3 635.9 829.6 633.8 C827.8 631.7 826.0 631.4 824.2 630.2 C822.4 629.0 820.5 628.0 818.9 626.7 C817.3 625.3 815.3 623.7 814.4 622.2 C813.6 620.7 813.4 619.1 813.6 617.8Z" fill="#ffffff"/>
<path d="M146.4 838.2 C155.4 838.6 151.7 837.9 154.2 837.5 C156.7 837.2 159.0 836.7 161.3 836.1 C163.7 835.5 166.1 834.8 168.4 834.0 C170.8 833.1 173.4 832.3 175.6 831.1 C177.7 829.9 179.8 828.5 181.2 826.8 C182.7 825.2 183.1 823.1 184.1 821.2 C185.0 819.3 186.0 817.6 186.9 815.5 C187.9 813.3 188.8 810.5 189.8 808.4 C190.7 806.2 191.4 804.3 192.6 802.7 C193.8 801.0 195.2 799.7 196.9 798.4 C198.5 797.1 200.4 795.9 202.6 794.8 C204.7 793.8 207.3 792.6 209.7 792.0 C212.1 791.4 214.4 791.4 216.8 791.3 C219.2 791.2 221.8 790.7 223.9 791.3 C226.0 791.9 228.1 793.4 229.6 794.8 C231.1 796.3 232.2 798.0 233.2 799.8 C234.1 801.6 234.5 803.7 235.3 805.5 C236.1 807.3 236.9 808.9 238.1 810.5 C239.3 812.0 241.0 813.5 242.4 814.8 C243.8 816.1 245.0 817.0 246.7 818.3 C248.3 819.6 250.5 821.3 252.4 822.6 C254.3 823.9 256.1 825.2 258.0 826.1 C259.9 827.1 261.8 827.8 263.7 828.3 C265.6 828.7 267.5 828.5 269.4 829.0 C271.3 829.5 273.0 830.3 275.1 831.1 C277.2 831.9 279.9 833.1 282.2 834.0 C284.6 834.8 287.0 835.5 289.3 836.1 C291.7 836.7 295.2 837.3 296.4 837.5 C297.7 837.7 296.3 837.2 297.1 837.5 C297.9 837.9 300.6 838.3 301.3 839.6 C302.0 840.9 301.0 843.2 301.3 845.3 C301.7 847.5 302.9 850.1 303.5 852.4 C304.1 854.8 304.1 857.7 304.9 859.6 C305.7 861.5 306.7 863.0 308.4 863.8 C310.2 864.7 313.4 864.1 315.6 864.5 C317.7 865.0 320.3 865.4 321.2 866.7 C322.2 868.0 321.1 866.8 321.2 872.4 C321.4 877.9 358.9 895.4 322.0 900.0 C285.1 904.6 137.0 910.8 100.0 900.0 C63.0 889.2 92.3 845.3 100.0 835.0 C107.7 824.7 137.4 837.8 146.4 838.2Z" fill="#ffffff"/>
<path d="M531.9 689.1 L531.3 691.2 L529.8 692.8 L527.6 693.4 L525.5 692.8 L523.9 691.2 L523.3 689.1 L523.9 687.0 L525.5 685.4 L527.6 684.8 L529.8 685.4 L531.3 687.0Z" fill="url(#dB2)"/>
<g fill="none" stroke="#000" stroke-width="1" stroke-linejoin="round" shape-rendering="crispEdges">
<path d="M378.2 330.7 C377.3 329.5 375.0 325.8 372.9 323.6 C370.8 321.3 368.4 318.8 365.8 317.3 C363.1 315.9 359.6 315.5 356.9 314.7 C354.2 313.9 352.7 312.9 349.8 312.5 C346.8 312.2 342.5 311.9 339.1 312.5 C335.7 313.2 332.3 314.6 329.3 316.4 C326.4 318.3 323.9 321.2 321.3 323.6 C318.8 325.9 315.9 328.4 314.2 330.7 C312.6 332.9 311.3 335.4 311.6 336.9 C311.9 338.4 312.9 338.7 316.0 339.6 C319.1 340.4 325.5 341.9 330.2 342.2 C335.0 342.5 339.4 341.5 344.4 341.3 C349.5 341.2 357.8 341.3 360.4 341.3"/>
<path d="M369.3 398.2 C369.0 396.3 368.3 391.0 367.6 386.7 C366.8 382.4 365.0 375.6 364.9 372.4 C364.7 369.3 365.6 368.9 366.7 368.0 C367.7 367.1 369.5 367.1 371.1 367.1 C372.7 367.1 375.1 367.1 376.4 368.0 C377.8 368.9 378.5 370.5 379.1 372.4 C379.7 374.4 379.3 376.9 380.0 379.6 C380.7 382.2 382.5 386.1 383.6 388.4 C384.6 390.8 385.8 392.9 386.2 393.8"/>
<path d="M445.8 379.6 C444.9 381.0 442.8 385.2 440.4 388.4 C438.1 391.7 434.5 396.0 431.6 399.1 C428.6 402.2 425.9 404.1 422.7 407.1 C419.4 410.1 414.7 414.5 412.0 416.9 C409.3 419.3 409.3 420.1 406.7 421.3 C404.0 422.5 399.9 422.8 396.0 424.0 C392.1 425.2 387.4 427.0 383.6 428.4 C379.7 429.9 376.1 431.6 372.9 432.9 C369.6 434.2 366.4 435.9 364.0 436.4 C361.6 437.0 361.0 436.7 358.7 436.4 C356.3 436.1 352.7 434.8 349.8 434.7 C346.8 434.5 343.3 434.7 340.9 435.6 C338.5 436.4 337.3 438.1 335.6 440.0 C333.8 441.9 332.0 445.6 330.2 447.1 C328.4 448.6 327.6 448.7 324.9 448.9 C322.2 449.0 317.5 448.0 314.2 448.0 C311.0 448.0 307.6 448.3 305.3 448.9 C303.1 449.5 301.6 450.5 300.9 451.6 C300.1 452.6 300.1 453.8 300.9 455.1 C301.6 456.4 304.0 458.2 305.3 459.6 C306.7 460.9 308.3 462.5 308.9 463.1"/>
<path d="M482.2 327.1 C480.4 327.2 474.8 326.2 471.6 327.6 C468.3 329.1 464.0 334.5 462.7 336.0 C461.3 337.5 461.0 336.7 463.6 336.9 C466.1 337.1 475.0 337.2 477.8 337.2 C480.5 337.3 477.9 336.8 480.0 337.1 C482.1 337.4 487.7 338.3 490.7 338.9 C493.6 339.5 495.9 339.6 497.8 340.7 C499.7 341.7 501.6 343.2 502.2 345.1 C502.8 347.0 502.4 349.9 501.3 352.2 C500.3 354.6 498.1 357.4 496.0 359.3 C493.9 361.3 491.0 362.8 488.9 363.8 C486.7 364.8 485.3 364.6 483.1 365.3 C481.0 366.0 477.9 367.6 476.0 368.0 C474.1 368.4 472.3 368.0 471.6 368.0"/>
<path d="M254.4 536.0 C254.6 536.9 255.6 539.6 255.3 541.3 C255.0 543.1 254.0 544.7 252.7 546.7 C251.3 548.6 248.7 550.5 247.3 552.9 C246.0 555.3 245.6 557.8 244.7 560.9 C243.8 564.0 243.0 567.4 242.0 571.6 C241.0 575.7 239.5 581.6 238.4 585.8 C237.4 589.9 237.0 593.2 235.8 596.4 C234.6 599.7 232.8 602.5 231.3 605.3 C229.9 608.1 228.1 610.7 226.9 613.3 C225.7 616.0 224.5 618.8 224.2 621.3 C223.9 623.9 225.4 625.3 225.1 628.4 C224.8 631.6 222.9 638.1 222.4 640.0"/>
<path d="M281.1 523.6 C282.0 524.1 285.0 525.6 286.4 527.1 C287.9 528.6 289.1 530.1 290.0 532.4 C290.9 534.8 290.7 539.0 291.8 541.3 C292.8 543.7 295.6 544.3 296.2 546.7 C296.8 549.0 295.6 552.6 295.3 555.6 C295.0 558.5 294.1 561.2 294.4 564.4 C294.7 567.7 296.1 571.9 297.1 575.1 C298.1 578.4 298.9 581.8 300.7 584.0 C302.4 586.2 305.4 587.9 307.8 588.4 C310.1 589.0 312.5 588.6 314.9 587.6 C317.3 586.5 320.4 584.3 322.0 582.2 C323.6 580.1 324.2 577.0 324.7 575.1 C325.1 573.2 323.8 572.0 324.7 570.7 C325.6 569.3 329.1 567.7 330.0 567.1"/>
<path d="M480.0 327.3 C480.9 326.7 483.6 325.0 485.3 323.8 C487.1 322.6 489.6 321.4 490.7 320.2 C491.7 319.0 490.2 318.4 491.6 316.7 C492.9 314.9 496.9 310.0 498.7 309.6 C500.4 309.1 500.9 313.1 502.2 314.0 C503.6 314.9 505.2 314.3 506.7 314.9 C508.1 315.5 507.7 317.1 511.1 317.6 C514.5 318.0 524.1 318.4 527.1 317.6 C530.1 316.7 526.7 315.8 528.9 312.2 C531.1 308.7 537.6 299.0 540.4 296.2 C543.3 293.4 544.9 295.5 545.8 295.3"/>
<path d="M576.0 278.4 C576.9 278.4 579.6 279.0 581.3 278.1 C583.1 277.2 585.5 275.3 586.7 273.1 C587.9 270.9 587.0 267.0 588.4 265.1 C589.9 263.2 593.2 262.3 595.6 261.6 C597.9 260.8 600.6 261.3 602.7 260.7 C604.7 260.0 604.6 258.2 608.0 257.6 C611.4 257.1 620.0 257.8 623.1 257.1 C626.2 256.4 624.0 254.4 626.7 253.6 C629.3 252.8 636.1 253.5 639.1 252.3 C642.1 251.1 642.5 248.6 644.4 246.4 C646.4 244.3 647.6 240.7 650.7 239.3 C653.8 238.0 660.6 239.0 663.1 238.4 C665.6 237.9 664.3 236.4 665.8 235.8 C667.3 235.2 670.1 236.1 672.0 234.9 C673.9 233.7 676.4 231.5 677.3 228.7 C678.3 225.9 677.2 219.9 677.7 218.0 C678.1 216.1 679.6 217.3 680.0 217.1"/>
<path d="M625.8 387.8 C626.1 386.6 626.4 382.4 627.6 380.7 C628.7 378.9 630.7 377.8 632.9 377.1 C635.1 376.5 638.8 376.3 640.9 376.8 C643.0 377.2 643.7 378.4 645.3 379.8 C647.0 381.2 648.6 383.3 650.7 385.1 C652.7 386.9 655.4 388.8 657.8 390.4 C660.1 392.1 662.2 393.6 664.9 394.9 C667.6 396.2 671.3 397.4 673.8 398.4 C676.3 399.5 679.0 400.7 680.0 401.1"/>
<path d="M804.4 214.4 C804.1 215.2 803.0 217.3 802.7 218.9 C802.4 220.5 802.2 222.9 802.7 224.2 C803.1 225.6 805.3 226.0 805.3 226.9 C805.3 227.8 803.1 227.9 802.7 229.6 C802.3 231.2 802.4 234.6 803.0 236.7 C803.6 238.7 806.9 241.0 806.2 242.0 C805.6 243.0 800.4 241.4 799.1 242.9 C797.8 244.4 798.4 247.2 798.2 250.9 C798.1 254.6 799.0 261.9 798.2 265.1 C797.5 268.4 794.6 267.8 793.8 270.4 C792.9 273.1 792.7 278.9 793.2 281.1 C793.8 283.3 796.4 282.6 797.3 283.8 C798.3 285.0 798.5 286.3 798.8 288.2 C799.1 290.1 798.5 293.9 799.1 295.3 C799.8 296.8 801.9 295.9 802.7 297.1 C803.4 298.3 804.2 301.4 803.6 302.4 C802.9 303.5 799.6 298.9 798.8 303.3 C798.0 307.8 798.8 324.8 798.8 329.1"/>
<path d="M822.2 337.1 C823.7 336.5 828.1 334.6 831.1 333.6 C834.1 332.5 837.5 332.7 840.0 330.9 C842.5 329.1 843.7 324.7 846.2 322.9 C848.7 321.1 852.6 321.9 855.1 320.2 C857.6 318.6 860.1 315.5 861.3 313.1 C862.5 310.7 861.5 306.7 862.2 306.0 C863.0 305.3 863.6 308.2 865.8 308.7 C868.0 309.1 873.5 309.3 875.6 308.7 C877.6 308.1 877.5 305.7 878.2 305.1 C879.0 304.5 879.7 305.1 880.0 305.1"/>
<path d="M860.7 312.5 C860.9 311.3 861.1 306.2 861.8 305.5 C862.5 304.9 863.5 307.7 864.7 308.4 C866.0 309.1 867.5 309.5 869.3 309.6 C871.2 309.7 874.1 309.9 875.7 309.0 C877.2 308.1 877.1 306.1 878.6 304.4 C880.0 302.6 883.1 300.7 884.4 298.6 C885.6 296.5 884.9 292.8 886.1 291.7 C887.2 290.5 890.0 291.1 891.3 291.7 C892.5 292.2 892.4 294.4 893.6 295.1 C894.8 295.9 897.0 296.5 898.2 296.3 C899.5 296.1 900.9 294.9 901.1 294.0 C901.3 293.0 900.2 291.3 899.4 290.5 C898.5 289.7 895.7 290.5 895.9 289.4 C896.1 288.2 899.6 285.3 900.5 283.6 C901.5 281.8 901.0 280.1 901.7 279.0 C902.4 277.8 904.0 278.0 904.6 276.6 C905.2 275.3 904.1 271.9 905.2 270.9 C906.2 269.9 909.8 270.7 910.7 270.6"/>
<path d="M878.6 225.6 C879.3 225.6 881.9 225.2 883.2 225.8 C884.5 226.4 885.1 229.3 886.1 229.3 C887.1 229.2 886.9 226.2 889.0 225.6 C891.1 225.0 896.9 224.9 898.8 225.6 C900.7 226.3 900.1 228.3 900.5 229.8 C900.9 231.4 900.5 233.4 901.1 235.0 C901.7 236.7 903.3 237.8 904.0 239.7 C904.7 241.5 904.0 245.0 905.2 246.0 C906.3 247.1 909.8 246.0 910.7 246.0"/>
<path d="M894.8 214.8 C895.2 215.3 896.7 217.5 897.6 217.5 C898.6 217.5 900.1 215.3 900.5 214.8"/>
<path d="M325.5 485.5 C325.9 486.2 326.9 488.4 327.7 489.7 C328.4 491.0 328.4 492.4 330.0 493.3 C331.6 494.2 334.1 494.6 337.1 495.1 C340.1 495.6 345.3 495.5 347.8 496.5 C350.3 497.6 351.4 499.5 352.2 501.3 C353.1 503.2 353.2 505.0 352.8 507.6 C352.3 510.1 350.7 514.4 349.6 516.4 C348.4 518.5 347.2 519.6 346.0 520.0 C344.8 520.4 343.5 519.7 342.4 519.1 C341.4 518.5 341.0 517.0 339.8 516.4 C338.6 515.9 336.7 515.3 335.3 515.6 C334.0 515.9 332.5 517.0 331.8 518.2 C331.0 519.4 330.6 521.4 330.9 522.7 C331.2 523.9 331.9 525.2 333.6 525.7 C335.2 526.1 338.7 525.5 340.7 525.3 C342.6 525.1 343.5 524.3 345.1 524.4 C346.7 524.6 347.6 525.8 350.4 526.2 C353.3 526.7 359.0 527.1 362.0 527.1 C365.0 527.1 366.1 527.0 368.2 526.2 C370.3 525.5 372.4 523.3 374.4 522.7 C376.5 522.1 378.9 522.2 380.7 522.7 C382.4 523.1 382.9 524.6 385.1 525.3 C387.3 526.1 390.7 526.7 394.0 527.1 C397.3 527.6 402.1 527.1 404.7 528.0 C407.2 528.9 407.6 530.7 409.1 532.4 C410.6 534.2 412.5 536.3 413.6 538.7 C414.7 541.0 415.1 544.4 415.7 546.7 C416.3 548.9 416.1 550.6 417.1 552.0 C418.1 553.4 420.8 554.7 421.6 555.2"/>
<path d="M330.0 568.0 C331.8 568.1 338.3 567.9 340.7 568.4 C343.0 568.8 343.0 570.3 344.2 570.7 C345.4 571.0 346.6 570.8 347.8 570.3 C349.0 569.9 349.3 568.8 351.3 568.0 C353.4 567.2 357.7 566.5 360.2 565.3 C362.7 564.1 364.4 562.0 366.4 560.9 C368.5 559.8 369.9 559.1 372.7 558.8 C375.5 558.4 380.1 558.6 383.3 558.8 C386.6 558.9 389.3 559.4 392.2 559.5 C395.2 559.5 399.0 559.6 401.1 559.1 C403.2 558.6 403.5 557.0 404.7 556.4 C405.9 555.9 407.3 555.5 408.2 555.6 C409.1 555.6 409.7 556.7 410.0 557.0"/>
<path d="M322.7 634.2 C321.7 633.3 318.6 631.0 316.7 628.9 C314.8 626.8 311.9 624.0 311.3 621.8 C310.7 619.5 311.6 616.6 313.1 615.4 C314.6 614.2 317.6 614.1 320.2 614.7 C322.9 615.3 326.7 618.5 329.1 618.9 C331.5 619.4 333.6 617.7 334.4 617.5"/>
<path d="M643.8 440.0 C643.5 440.7 642.9 443.3 642.0 444.4 C641.1 445.6 639.8 447.0 638.4 447.1 C637.1 447.3 635.2 446.1 634.0 445.3 C632.8 444.6 632.5 443.0 631.3 442.7 C630.1 442.4 628.2 442.4 626.9 443.6 C625.6 444.7 624.1 447.4 623.3 449.8 C622.6 452.1 622.3 455.3 622.4 457.8 C622.6 460.3 623.3 463.0 624.2 464.9 C625.1 466.8 626.0 468.1 627.8 469.3 C629.6 470.5 632.8 471.0 634.9 472.0 C637.0 473.0 638.7 474.1 640.2 475.6 C641.7 477.0 642.3 479.1 643.8 480.9 C645.3 482.7 647.3 484.1 649.1 486.2 C650.9 488.3 653.0 491.3 654.4 493.3 C655.9 495.4 656.5 496.9 658.0 498.7 C659.5 500.4 661.6 502.6 663.3 504.0 C665.1 505.4 666.9 506.5 668.7 507.2 C670.4 507.9 672.2 507.6 674.0 508.4 C675.8 509.2 677.9 510.7 679.3 512.0 C680.8 513.3 681.7 514.5 682.9 516.4 C684.1 518.4 685.3 521.2 686.4 523.6 C687.6 525.9 689.0 528.4 689.6 530.7 C690.3 532.9 690.4 535.0 690.4 536.9 C690.3 538.8 689.8 540.6 689.1 542.2 C688.5 543.9 687.2 545.5 686.4 546.7 C685.7 547.9 685.0 548.9 684.7 549.3"/>
<path d="M703.3 548.4 C703.6 547.7 704.1 545.5 705.1 544.0 C706.1 542.5 708.1 540.5 709.6 539.6 C711.0 538.6 712.5 538.0 714.0 538.1 C715.5 538.3 716.8 539.9 718.4 540.4 C720.1 541.0 721.9 541.5 723.8 541.7 C725.7 541.8 729.0 541.4 730.0 541.3"/>
<path d="M536.2 578.7 C537.3 578.4 540.5 576.9 542.4 577.2 C544.4 577.5 546.3 578.7 547.8 580.4 C549.3 582.2 550.9 585.5 551.3 587.6 C551.8 589.6 551.3 591.7 550.4 592.9 C549.6 594.1 547.1 593.8 546.0 594.7 C544.9 595.6 544.2 596.9 543.9 598.2 C543.6 599.6 543.4 601.3 544.2 602.7 C545.0 604.0 547.3 606.2 548.7 606.2 C550.0 606.2 551.3 604.0 552.2 602.7 C553.1 601.3 553.0 599.1 554.0 598.2 C555.0 597.3 556.5 596.9 558.4 597.3 C560.4 597.8 563.3 599.7 565.6 600.9 C567.8 602.1 570.4 602.8 571.8 604.4 C573.1 606.1 573.6 608.7 573.6 610.7 C573.6 612.6 573.1 614.7 571.8 616.0 C570.4 617.3 567.8 618.1 565.6 618.7 C563.3 619.3 560.5 618.8 558.4 619.6 C556.4 620.3 554.3 621.8 553.1 623.1 C551.9 624.4 552.4 626.8 551.3 627.6 C550.3 628.3 548.7 628.3 546.9 627.6 C545.1 626.8 542.3 625.0 540.7 623.1 C539.0 621.2 538.3 618.1 537.1 616.0 C535.9 613.9 534.4 612.1 533.6 610.7 C532.7 609.2 532.1 607.7 531.8 607.1"/>
<path d="M613.6 631.1 C615.9 630.4 625.1 627.0 627.8 627.0 C630.4 627.0 630.4 628.9 629.6 631.1 C628.7 633.3 623.6 638.5 622.4 640.0"/>
<path d="M693.6 634.7 C694.7 633.2 698.3 628.1 700.7 625.8 C703.0 623.4 704.8 621.8 707.8 620.4 C710.7 619.1 714.7 618.1 718.4 617.8 C722.1 617.5 728.1 618.5 730.0 618.7"/>
<path d="M680.0 401.2 C681.8 402.8 686.5 407.3 690.7 410.5 C694.8 413.7 700.7 417.3 704.9 420.4 C709.0 423.6 712.2 426.1 715.6 429.3 C718.9 432.6 723.6 438.2 725.2 440.0"/>
<path d="M633.1 411.9 C634.0 413.0 637.6 415.6 638.4 418.7 C639.2 421.7 637.3 427.0 638.0 430.4 C638.8 433.8 642.2 437.5 643.0 438.9"/>
<path d="M725.3 440.0 C726.2 440.7 728.9 442.8 730.7 444.4 C732.4 446.1 734.5 448.0 736.0 449.8 C737.5 451.6 737.8 453.2 739.6 455.1 C741.3 457.0 744.3 459.6 746.7 461.3 C749.0 463.1 751.1 464.6 753.8 465.8 C756.4 467.0 759.7 467.7 762.7 468.4 C765.6 469.2 768.9 469.2 771.6 470.2 C774.2 471.3 776.6 473.3 778.7 474.7 C780.7 476.0 782.5 477.3 784.0 478.2 C785.5 479.1 787.0 479.7 787.6 480.0"/>
<path d="M808.9 474.7 C810.4 474.5 815.1 474.2 817.8 473.8 C820.4 473.3 822.8 473.2 824.9 472.0 C827.0 470.8 828.1 468.3 830.2 466.7 C832.3 465.0 835.0 463.1 837.3 462.2 C839.7 461.3 842.4 460.9 844.4 461.3 C846.5 461.8 848.0 463.6 849.8 464.9 C851.6 466.2 853.3 468.0 855.1 469.3 C856.9 470.7 858.7 472.7 860.4 472.9 C862.2 473.0 864.0 471.9 865.8 470.2 C867.6 468.6 869.3 465.2 871.1 463.1 C872.9 461.0 875.0 459.6 876.4 457.8 C877.9 456.0 879.7 454.5 880.0 452.4 C880.3 450.4 879.4 447.4 878.2 445.3 C877.0 443.3 873.8 440.9 872.9 440.0"/>
<path d="M862.2 498.7 C861.6 497.6 860.4 493.7 858.7 492.4 C856.9 491.2 853.9 491.1 851.6 491.2 C849.2 491.3 846.5 491.8 844.4 493.3 C842.4 494.9 840.9 498.1 839.1 500.4 C837.3 502.8 835.0 504.9 833.8 507.6 C832.5 510.2 831.6 513.5 831.6 516.4 C831.6 519.4 832.7 522.8 833.8 525.3 C834.9 527.9 836.4 530.1 838.2 531.6 C840.0 533.0 842.1 533.6 844.4 534.2 C846.8 534.8 851.1 535.0 852.4 535.1"/>
<path d="M855.1 537.8 C856.0 537.9 859.0 537.8 860.4 538.7 C861.9 539.6 863.6 541.2 864.0 543.1 C864.4 545.0 863.0 547.9 863.1 550.2 C863.3 552.6 864.1 555.0 864.9 557.3 C865.6 559.7 867.3 562.1 867.6 564.4 C867.9 566.8 867.6 570.2 866.7 571.6 C865.8 572.9 863.0 572.3 862.2 572.4"/>
<path d="M852.4 548.4 C852.0 548.1 849.5 548.6 849.8 546.7 C850.1 544.7 853.5 538.5 854.2 536.9"/>
<path d="M720.0 541.3 C721.5 541.0 726.2 540.4 728.9 539.6 C731.6 538.7 733.6 537.8 736.0 536.0 C738.4 534.2 740.7 530.7 743.1 528.9 C745.5 527.1 748.0 525.6 750.2 525.0 C752.4 524.4 754.8 524.4 756.4 525.3 C758.1 526.3 758.7 529.0 760.0 530.7 C761.3 532.3 762.5 533.8 764.4 535.1 C766.4 536.4 769.6 536.7 771.6 538.7 C773.5 540.6 775.0 543.0 776.0 546.7 C777.0 550.4 777.9 556.7 777.8 560.9 C777.6 565.0 776.3 568.6 775.1 571.6 C773.9 574.5 772.7 577.2 770.7 578.7 C768.6 580.1 765.8 580.4 762.7 580.4 C759.6 580.4 755.3 578.8 752.0 578.7 C748.7 578.5 745.5 578.8 743.1 579.6 C740.7 580.3 738.9 581.5 737.8 583.1 C736.7 584.7 736.1 587.4 736.4 589.3 C736.7 591.3 737.8 593.3 739.6 594.7 C741.3 596.0 744.0 597.0 746.7 597.3 C749.3 597.6 754.1 596.6 755.6 596.4"/>
<path d="M785.8 605.3 C786.1 606.8 787.6 611.0 787.6 614.2 C787.6 617.5 786.4 621.9 785.8 624.9 C785.2 627.9 784.0 629.5 784.0 632.0 C784.0 634.5 785.5 638.7 785.8 640.0"/>
<path d="M842.7 619.6 C842.5 618.1 841.5 613.6 841.8 610.7 C842.1 607.7 843.1 604.3 844.4 601.8 C845.8 599.3 847.9 597.0 849.8 595.6 C851.7 594.1 854.2 593.1 856.0 593.2 C857.8 593.4 859.6 595.3 860.4 596.4 C861.3 597.6 861.2 599.4 861.3 600.0"/>
<path d="M897.8 440.0 C898.4 440.7 899.9 444.0 901.3 444.4 C902.8 444.9 905.0 443.4 906.7 442.7 C908.3 441.9 910.4 440.4 911.1 440.0"/>
<path d="M221.8 640.0 C221.8 641.2 222.6 644.4 222.1 647.1 C221.7 649.8 220.4 653.0 219.1 656.0 C217.9 659.0 215.6 662.2 214.7 664.9 C213.7 667.6 213.1 669.3 213.2 672.0 C213.4 674.7 215.3 677.6 215.6 680.9 C215.8 684.1 215.4 689.2 214.7 691.6 C213.9 693.9 212.4 694.1 211.1 695.1 C209.8 696.1 207.4 697.3 206.7 697.8"/>
<path d="M198.7 730.7 C197.5 731.3 194.2 733.2 191.6 734.2 C188.9 735.3 185.3 735.6 182.7 736.9 C180.0 738.2 177.3 740.3 175.6 742.2 C173.8 744.1 173.2 745.9 172.0 748.4 C170.8 751.0 168.9 755.0 168.4 757.3 C168.0 759.7 168.1 761.2 169.3 762.7 C170.5 764.1 173.3 765.2 175.6 766.2 C177.8 767.3 180.0 768.6 182.7 768.9 C185.3 769.2 188.9 768.4 191.6 768.0 C194.2 767.6 196.6 766.3 198.7 766.6 C200.7 766.9 201.9 768.4 204.0 769.8 C206.1 771.2 208.4 773.6 211.1 775.1 C213.8 776.6 217.3 777.6 220.0 778.7 C222.7 779.7 224.4 780.4 227.1 781.3 C229.8 782.2 233.6 782.8 236.0 784.0 C238.4 785.2 239.6 786.8 241.3 788.4 C243.1 790.1 245.2 792.3 246.7 793.8 C248.1 795.3 248.4 796.1 250.2 797.3 C252.0 798.5 255.0 799.9 257.3 800.9 C259.7 801.9 262.7 801.9 264.4 803.6 C266.2 805.2 266.8 808.3 268.0 810.7 C269.2 813.0 271.1 816.0 271.6 817.8 C272.0 819.6 270.8 820.7 270.7 821.3"/>
<path d="M250.2 744.0 C251.4 744.3 255.0 745.0 257.3 745.8 C259.7 746.5 262.4 747.9 264.4 748.4 C266.5 748.9 268.0 749.2 269.8 748.8 C271.6 748.4 273.3 746.5 275.1 745.8 C276.9 745.1 278.4 744.6 280.4 744.5 C282.5 744.4 285.2 744.4 287.6 745.2 C289.9 746.0 292.3 748.2 294.7 749.3 C297.0 750.5 299.4 751.7 301.8 752.0 C304.1 752.3 306.5 752.0 308.9 751.1 C311.3 750.2 313.3 747.5 316.0 746.7 C318.7 745.9 321.9 746.6 324.9 746.3 C327.9 746.0 331.3 745.3 333.8 744.9 C336.3 744.5 343.0 743.9 340.0 744.0 C337.0 744.1 319.3 745.4 315.6 745.7 C311.9 746.0 316.9 745.6 318.1 745.7 C319.2 745.8 320.7 746.3 322.4 746.3 C324.2 746.4 326.8 746.3 328.7 746.0 C330.5 745.7 332.8 744.7 333.6 744.4"/>
<path d="M228.9 727.1 C229.2 728.3 229.5 732.3 230.7 734.2 C231.9 736.1 235.1 737.9 236.0 738.7"/>
<path d="M250.2 746.7 C251.1 747.9 253.5 751.7 255.6 753.8 C257.6 755.9 260.9 756.7 262.7 759.1 C264.4 761.5 264.4 765.6 266.2 768.0 C268.0 770.4 271.4 771.7 273.3 773.3 C275.3 775.0 276.9 776.3 277.8 777.8 C278.7 779.3 279.1 780.9 278.7 782.2 C278.2 783.6 276.6 785.0 275.1 785.8 C273.6 786.5 271.6 787.0 269.8 786.7 C268.0 786.4 266.2 784.6 264.4 784.0 C262.7 783.4 260.6 782.8 259.1 783.1 C257.6 783.4 256.0 784.4 255.6 785.8 C255.1 787.1 255.6 789.5 256.4 791.1 C257.3 792.7 259.0 794.4 260.9 795.6 C262.8 796.7 265.9 797.2 268.0 798.2 C270.1 799.3 271.6 800.9 273.3 801.8 C275.1 802.7 276.9 802.1 278.7 803.6 C280.4 805.0 282.5 808.3 284.0 810.7 C285.5 813.0 286.4 815.7 287.6 817.8 C288.7 819.9 289.6 821.3 291.1 823.1 C292.6 824.9 295.6 827.6 296.4 828.4"/>
<path d="M335.3 707.0 C335.4 708.8 335.0 715.3 335.6 717.5 C336.2 719.7 337.9 720.2 338.7 720.0 C339.5 719.8 340.2 718.2 340.6 716.2 C341.0 714.2 341.1 709.4 341.2 708.0"/>
<path d="M333.6 744.4 C334.5 744.5 337.4 744.5 338.6 744.8 C339.9 745.0 340.4 745.4 341.1 746.0 C341.8 746.6 342.0 747.9 343.0 748.2 C343.9 748.5 345.6 748.6 346.7 747.9 C347.9 747.1 348.6 745.2 349.8 743.5 C351.1 741.8 352.6 737.6 354.2 737.6 C355.7 737.6 357.9 742.9 359.2 743.5 C360.4 744.1 360.3 741.8 361.6 741.3 C363.0 740.9 365.5 741.3 367.2 741.0 C369.0 740.8 370.1 740.3 372.2 739.8 C374.4 739.3 380.9 737.7 380.0 737.9 C379.1 738.2 367.4 741.1 366.7 741.3 C365.9 741.5 372.9 739.5 375.6 739.2 C378.2 738.9 380.0 739.9 382.7 739.6 C385.3 739.2 388.9 737.8 391.6 736.9 C394.2 736.0 396.3 735.6 398.7 734.2 C401.0 732.9 403.7 731.0 405.8 728.9 C407.9 726.8 409.6 724.1 411.1 721.8 C412.6 719.4 413.5 716.7 414.7 714.7 C415.9 712.6 417.6 710.2 418.2 709.3"/>
<path d="M450.2 695.1 C451.4 695.0 455.6 694.8 457.3 694.2 C459.1 693.6 459.1 692.3 460.9 691.6 C462.7 690.8 465.6 690.5 468.0 689.8 C470.4 689.0 472.7 687.9 475.1 687.1 C477.5 686.4 480.1 686.1 482.2 685.3 C484.3 684.6 485.9 683.9 487.6 682.7 C489.2 681.5 490.8 678.7 492.0 678.2 C493.2 677.8 493.3 679.9 494.7 680.0 C496.0 680.1 497.9 679.6 500.0 679.1 C502.1 678.7 504.7 678.1 507.1 677.3 C509.5 676.6 512.1 675.4 514.2 674.7 C516.3 673.9 517.2 673.5 519.6 672.9 C521.9 672.3 525.8 671.6 528.4 671.1 C531.1 670.7 533.6 670.7 535.6 670.2 C537.5 669.8 539.3 668.7 540.0 668.4"/>
<path d="M442.2 719.1 C443.0 719.9 444.7 722.7 446.7 723.6 C448.6 724.4 452.0 723.9 453.8 724.4 C455.6 725.0 457.0 725.8 457.3 727.1 C457.6 728.4 456.7 730.8 455.6 732.4 C454.4 734.1 451.4 735.1 450.2 736.9 C449.0 738.7 449.0 740.3 448.4 743.1 C447.9 745.9 447.6 750.5 446.7 753.8 C445.8 757.0 444.3 760.3 443.1 762.7 C441.9 765.0 440.7 766.4 439.6 768.0 C438.4 769.6 437.3 771.6 436.0 772.4 C434.7 773.3 432.3 772.4 431.6 773.3 C430.8 774.2 432.6 776.6 431.6 777.8 C430.5 779.0 427.3 779.6 425.3 780.4 C423.4 781.3 421.5 782.5 420.0 783.1 C418.5 783.7 417.6 784.4 416.4 784.0 C415.3 783.6 413.9 781.9 412.9 780.4 C411.9 779.0 411.0 777.2 410.2 775.1 C409.5 773.0 409.2 769.8 408.4 768.0 C407.7 766.2 407.1 765.3 405.8 764.4 C404.4 763.6 401.6 762.4 400.4 762.7 C399.3 763.0 400.1 765.5 398.7 766.2 C397.2 767.0 393.5 767.4 391.6 767.1 C389.6 766.8 388.0 765.8 387.1 764.4 C386.2 763.1 387.0 760.9 386.2 759.1 C385.5 757.3 383.6 755.4 382.7 753.8 C381.8 752.1 382.1 750.5 380.9 749.3 C379.7 748.1 377.5 747.0 375.6 746.7 C373.6 746.4 370.8 747.0 369.3 747.6 C367.9 748.1 366.4 749.5 366.7 750.2 C367.0 751.0 369.2 751.4 371.1 752.0 C373.0 752.6 376.3 752.9 378.2 753.8 C380.1 754.7 382.1 755.9 382.7 757.3 C383.3 758.8 382.5 761.2 381.8 762.7 C381.0 764.1 379.9 765.3 378.2 766.2 C376.6 767.1 373.6 767.0 372.0 768.0 C370.4 769.0 369.2 770.8 368.4 772.4 C367.7 774.1 367.1 776.3 367.6 777.8 C368.0 779.3 369.9 780.9 371.1 781.3 C372.3 781.8 374.1 780.6 374.7 780.4"/>
<path d="M462.7 718.2 C463.6 718.4 466.5 718.5 468.0 719.1 C469.5 719.7 470.4 720.7 471.6 721.8 C472.7 722.8 473.6 724.1 475.1 725.3 C476.6 726.5 478.4 727.9 480.4 728.9 C482.5 729.9 485.2 731.1 487.6 731.6 C489.9 732.0 492.9 732.0 494.7 731.6 C496.4 731.1 497.8 730.2 498.2 728.9 C498.7 727.6 498.2 724.9 497.3 723.6 C496.4 722.2 494.1 721.5 492.9 720.9 C491.7 720.3 490.7 720.1 490.2 720.0"/>
<path d="M462.7 725.3 C463.6 726.5 466.5 730.4 468.0 732.4 C469.5 734.5 470.1 736.3 471.6 737.8 C473.0 739.3 474.5 740.6 476.9 741.3 C479.3 742.1 483.1 741.6 485.8 742.2 C488.4 742.8 490.8 743.6 492.9 744.9 C495.0 746.2 496.4 748.7 498.2 750.2 C500.0 751.7 501.8 753.0 503.6 753.8 C505.3 754.5 507.3 754.4 508.9 754.7 C510.5 755.0 513.0 754.2 513.3 755.6 C513.6 756.9 511.7 760.6 510.7 762.7 C509.6 764.7 508.6 766.5 507.1 768.0 C505.6 769.5 503.6 770.8 501.8 771.6 C500.0 772.3 497.3 772.3 496.4 772.4"/>
<path d="M464.4 798.2 C464.1 799.6 463.9 805.3 462.7 806.2 C461.5 807.1 459.4 803.6 457.3 803.6 C455.3 803.6 452.9 805.5 450.2 806.2 C447.6 807.0 444.0 808.0 441.3 808.0 C438.7 808.0 436.3 807.4 434.2 806.2 C432.1 805.0 430.4 802.7 428.9 800.9 C427.4 799.1 426.5 797.2 425.3 795.6 C424.1 793.9 423.0 792.1 421.8 791.1 C420.6 790.1 419.4 789.3 418.2 789.3 C417.0 789.3 415.9 791.4 414.7 791.1 C413.5 790.8 412.3 788.4 411.1 787.6 C409.9 786.7 408.4 786.7 407.6 785.8 C406.7 784.9 406.7 783.3 405.8 782.2 C404.9 781.2 403.4 780.3 402.2 779.6 C401.0 778.8 399.3 778.1 398.7 777.8"/>
<path d="M398.7 777.8 C399.4 778.2 401.6 778.8 403.1 780.4 C404.6 782.1 405.6 785.8 407.6 787.6 C409.5 789.3 412.7 789.9 414.7 791.1 C416.6 792.3 418.1 792.9 419.1 794.7 C420.1 796.4 420.1 799.4 420.9 801.8 C421.6 804.1 422.5 806.7 423.6 808.9 C424.6 811.1 426.2 813.0 427.1 815.1 C428.0 817.2 428.9 819.7 428.9 821.3 C428.9 823.0 428.0 823.7 427.1 824.9 C426.2 826.1 425.3 828.3 423.6 828.4 C421.8 828.6 417.6 826.2 416.4 825.8"/>
<path d="M540.0 812.4 C539.3 813.0 537.2 814.5 535.6 816.0 C533.9 817.5 531.4 819.9 530.2 821.3 C529.0 822.8 529.9 824.1 528.4 824.9 C527.0 825.6 523.4 824.9 521.3 825.8 C519.3 826.7 517.0 828.7 516.0 830.2 C515.0 831.7 514.5 833.8 515.1 834.7 C515.7 835.6 518.2 834.7 519.6 835.6 C520.9 836.4 522.5 839.3 523.1 840.0"/>
<path d="M436.0 711.1 C437.2 710.9 440.7 709.7 443.1 709.7 C445.5 709.7 447.9 711.2 450.2 711.1 C452.6 711.0 455.0 709.8 457.3 709.0 C459.7 708.1 462.1 706.1 464.4 706.1 C466.8 706.1 468.9 708.4 471.6 709.0 C474.2 709.6 477.8 709.9 480.4 709.7 C483.1 709.5 485.5 708.8 487.6 707.6 C489.6 706.3 491.4 704.0 492.9 702.2 C494.4 700.4 495.3 697.3 496.4 696.9 C497.6 696.4 498.2 699.0 500.0 699.6 C501.8 700.1 504.7 700.8 507.1 700.1 C509.5 699.4 512.4 696.6 514.2 695.5 C516.0 694.3 517.2 693.7 517.8 693.3"/>
<path d="M439.6 714.7 C440.7 714.4 444.0 713.3 446.7 713.2 C449.3 713.2 452.6 714.7 455.6 714.3 C458.5 714.0 461.5 711.3 464.4 711.1 C467.4 710.9 470.4 712.9 473.3 713.2 C476.3 713.5 479.3 713.4 482.2 712.9 C485.2 712.4 488.1 711.7 491.1 710.2 C494.1 708.7 497.3 705.2 500.0 704.0 C502.7 702.8 504.4 703.7 507.1 703.1 C509.8 702.5 514.5 700.9 516.0 700.4"/>
<path d="M519.6 684.4 C520.1 683.9 521.0 681.3 523.1 680.9 C525.2 680.4 529.9 680.9 532.0 681.8 C534.1 682.7 535.4 684.3 535.6 686.2 C535.7 688.1 534.7 691.9 532.9 693.3 C531.1 694.8 527.0 695.4 524.9 695.1 C522.8 694.8 521.2 692.1 520.4 691.6"/>
<path d="M523.4 706.4 C523.8 707.5 525.0 712.6 525.6 712.8 C526.2 713.0 526.3 707.7 527.0 707.8 C527.7 707.9 528.8 713.0 529.8 713.5 C530.8 714.0 532.1 711.7 532.7 710.6 C533.3 709.5 532.9 707.8 533.4 707.1 C533.9 706.4 534.7 706.0 535.5 706.4 C536.3 706.8 537.2 709.1 538.4 709.2 C539.6 709.3 541.7 708.5 542.6 707.1 C543.5 705.7 542.6 702.8 544.0 700.7 C545.4 698.6 550.0 695.4 551.2 694.3"/>
<path d="M523.1 698.7 C524.6 698.4 529.2 697.3 532.0 696.9 C534.8 696.4 538.7 696.1 540.0 696.0"/>
<path d="M368.2 760.0 C368.7 760.9 371.0 763.8 371.0 765.7 C371.0 767.6 368.5 769.2 368.2 771.4 C367.8 773.5 367.9 776.6 368.9 778.5 C369.8 780.4 372.1 782.5 373.9 782.8 C375.6 783.0 377.7 779.4 379.6 779.9 C381.5 780.4 383.1 783.5 385.2 785.6 C387.4 787.7 390.0 790.3 392.4 792.7 C394.7 795.1 397.6 797.5 399.5 799.8 C401.4 802.2 402.5 804.6 403.7 806.9 C404.9 809.3 406.3 811.9 406.6 814.0 C406.8 816.2 406.1 817.8 405.2 819.7 C404.2 821.6 402.1 823.5 400.9 825.4 C399.7 827.3 399.2 829.2 398.0 831.1 C396.9 833.0 395.4 835.1 393.8 836.8 C392.1 838.5 390.0 839.6 388.1 841.1 C386.2 842.5 384.1 843.7 382.4 845.3 C380.7 847.0 379.8 849.1 378.1 851.0 C376.5 852.9 374.3 854.8 372.4 856.7 C370.5 858.6 368.9 860.7 366.8 862.4 C364.6 864.1 361.5 865.4 359.6 866.7 C357.7 868.0 356.1 869.6 355.4 870.2"/>
<path d="M402.3 799.8 C403.3 801.0 406.5 804.6 408.0 806.9 C409.5 809.3 411.2 811.9 411.6 814.0 C411.9 816.2 411.2 818.3 410.1 819.7 C409.1 821.2 406.5 821.2 405.2 822.6 C403.9 824.0 403.3 826.1 402.3 828.3 C401.4 830.4 400.9 833.2 399.5 835.4 C398.0 837.5 395.7 839.2 393.8 841.1 C391.9 843.0 390.0 844.9 388.1 846.8 C386.2 848.7 384.1 850.5 382.4 852.4 C380.7 854.3 379.8 856.2 378.1 858.1 C376.5 860.0 374.6 862.2 372.4 863.8 C370.3 865.5 367.2 867.0 365.3 868.1 C363.4 869.2 361.8 869.9 361.1 870.2"/>
<path d="M398.0 846.8 C397.1 847.7 394.3 850.5 392.4 852.4 C390.5 854.3 388.3 856.2 386.7 858.1 C385.0 860.0 383.8 862.4 382.4 863.8 C381.0 865.2 379.8 865.6 378.1 866.7 C376.5 867.7 373.4 869.6 372.4 870.2"/>
<path d="M540.0 671.1 C541.2 670.8 544.4 669.8 547.1 669.3 C549.8 668.8 553.0 668.1 556.0 668.1 C559.0 668.1 562.5 668.5 564.9 669.3 C567.3 670.1 568.4 671.9 570.2 672.9 C572.0 673.9 573.8 674.4 575.6 675.6 C577.3 676.7 579.1 678.5 580.9 680.0 C582.7 681.5 584.1 683.3 586.2 684.4 C588.3 685.5 590.7 686.3 593.3 686.6 C596.0 686.8 599.3 686.5 602.2 685.9 C605.2 685.2 608.7 683.9 611.1 682.7 C613.5 681.4 614.7 679.6 616.4 678.2 C618.2 676.9 619.7 675.4 621.8 674.7 C623.9 673.9 627.1 673.9 628.9 673.8 C630.7 673.6 631.9 673.8 632.4 673.8"/>
<path d="M700.0 681.8 C701.2 681.2 705.0 679.9 707.1 678.2 C709.2 676.6 710.7 674.2 712.4 672.0 C714.2 669.8 716.0 666.8 717.8 664.9 C719.6 663.0 721.0 661.6 723.1 660.4 C725.2 659.3 727.4 658.4 730.2 657.8 C733.0 657.2 738.4 657.0 740.0 656.9"/>
<path d="M580.9 697.8 C582.7 697.6 588.3 697.5 591.6 696.9 C594.8 696.3 597.2 695.1 600.4 694.2 C603.7 693.3 608.1 692.3 611.1 691.6 C614.1 690.8 617.0 690.1 618.2 689.8"/>
<path d="M652.0 688.9 C653.5 688.7 657.6 687.9 660.9 688.0 C664.1 688.1 668.0 689.2 671.6 689.8 C675.1 690.4 678.7 691.4 682.2 691.6 C685.8 691.7 689.3 691.4 692.9 690.7 C696.4 689.9 700.0 688.1 703.6 687.1 C707.1 686.1 710.7 685.2 714.2 684.4 C717.8 683.7 721.6 682.5 724.9 682.7 C728.1 682.8 731.3 684.1 733.8 685.3 C736.3 686.5 739.0 689.0 740.0 689.8"/>
<path d="M577.3 703.1 C578.8 702.8 583.0 702.2 586.2 701.3 C589.5 700.4 592.7 699.0 596.9 697.8 C601.0 696.6 606.4 695.0 611.1 694.2 C615.9 693.5 620.6 693.5 625.3 693.3 C630.1 693.2 634.8 693.5 639.6 693.3 C644.3 693.2 649.6 692.3 653.8 692.4 C657.9 692.6 660.9 693.3 664.4 694.2 C668.0 695.1 671.6 696.9 675.1 697.8 C678.7 698.7 682.2 699.6 685.8 699.6 C689.3 699.6 692.9 698.5 696.4 697.8 C700.0 697.0 703.6 696.0 707.1 695.1 C710.7 694.2 714.2 693.0 717.8 692.4 C721.3 691.9 724.7 691.4 728.4 691.6 C732.1 691.7 738.1 693.0 740.0 693.3"/>
<path d="M595.1 706.7 C596.0 705.9 598.4 703.4 600.4 702.2 C602.5 701.0 605.2 699.9 607.6 699.6 C609.9 699.3 612.9 699.4 614.7 700.4 C616.4 701.5 617.4 703.7 617.9 705.8 C618.3 707.9 617.1 710.8 617.3 712.9 C617.5 715.0 617.8 716.9 619.1 718.2 C620.4 719.6 624.0 719.7 625.3 720.9 C626.7 722.1 627.4 724.0 627.1 725.3 C626.8 726.7 625.3 727.7 623.6 728.9 C621.8 730.1 617.9 731.0 616.4 732.4 C615.0 733.9 614.7 736.0 614.7 737.8 C614.7 739.6 615.3 741.9 616.4 743.1 C617.6 744.3 620.0 744.9 621.8 744.9 C623.6 744.9 625.0 744.0 627.1 743.1 C629.2 742.2 631.6 740.3 634.2 739.6 C636.9 738.8 639.9 738.8 643.1 738.7 C646.4 738.5 650.2 738.8 653.8 738.7 C657.3 738.5 660.9 738.1 664.4 737.8 C668.0 737.5 672.4 737.5 675.1 736.9 C677.8 736.3 679.3 735.6 680.4 734.2 C681.6 732.9 681.6 731.0 682.2 728.9 C682.8 726.8 683.1 724.1 684.0 721.8 C684.9 719.4 685.8 716.7 687.6 714.7 C689.3 712.6 692.0 710.7 694.7 709.3 C697.3 708.0 700.3 707.3 703.6 706.7 C706.8 706.1 711.0 706.1 714.2 705.8 C717.5 705.5 721.6 705.0 723.1 704.9"/>
<path d="M561.3 686.2 C560.4 687.4 557.5 690.7 556.0 693.3 C554.5 696.0 553.2 699.3 552.4 702.2 C551.7 705.2 550.8 709.3 551.6 711.1 C552.3 712.9 555.9 711.4 556.9 712.9 C557.9 714.4 557.3 717.3 557.8 720.0 C558.2 722.7 559.1 726.5 559.6 728.9 C560.0 731.3 561.0 732.9 560.4 734.2 C559.9 735.6 557.6 736.1 556.0 736.9 C554.4 737.6 551.9 737.6 550.7 738.7 C549.5 739.7 549.8 742.2 548.9 743.1 C548.0 744.0 544.7 743.6 545.3 744.0 C545.9 744.4 549.8 745.5 552.4 745.8 C555.1 746.1 558.1 746.1 561.3 745.8 C564.6 745.5 568.4 744.6 572.0 744.0 C575.6 743.4 579.4 742.8 582.7 742.2 C585.9 741.6 589.8 740.9 591.6 740.4 C593.3 740.0 593.0 739.7 593.3 739.6"/>
<path d="M540.0 708.4 C540.9 706.8 543.1 701.2 545.3 698.7 C547.6 696.1 552.0 694.2 553.3 693.3"/>
<path d="M715.1 748.4 C714.7 749.6 714.1 754.1 712.4 755.6 C710.8 757.0 707.7 757.2 705.3 757.3 C703.0 757.5 700.6 757.0 698.2 756.4 C695.9 755.9 693.8 754.8 691.1 753.8 C688.4 752.7 684.9 751.2 682.2 750.2 C679.6 749.3 677.5 748.2 675.1 748.1 C672.7 747.9 669.8 748.4 668.0 749.3 C666.2 750.3 664.9 751.9 664.4 753.8 C664.0 755.7 664.3 759.4 665.3 760.9 C666.4 762.4 670.2 761.5 670.7 762.7 C671.1 763.9 668.3 765.9 668.0 768.0 C667.7 770.1 669.5 773.0 668.9 775.1 C668.3 777.2 666.7 779.0 664.4 780.4 C662.2 781.9 658.5 783.9 655.6 784.0 C652.6 784.1 649.3 783.3 646.7 781.3 C644.0 779.4 641.0 774.7 639.6 772.4 C638.1 770.2 639.0 769.3 637.8 768.0 C636.6 766.7 634.8 764.9 632.4 764.4 C630.1 764.0 626.2 764.6 623.6 765.3 C620.9 766.1 617.9 767.7 616.4 768.9 C615.0 770.1 614.1 771.6 614.7 772.4 C615.3 773.3 617.9 774.2 620.0 774.2 C622.1 774.2 624.7 772.4 627.1 772.4 C629.5 772.4 632.4 772.9 634.2 774.2 C636.0 775.6 636.9 779.1 637.8 780.4 C638.7 781.8 639.3 781.9 639.6 782.2"/>
<path d="M636.0 800.0 C633.9 800.1 626.8 800.9 623.6 800.9 C620.3 800.9 618.2 799.7 616.4 800.0 C614.7 800.3 615.1 801.9 612.9 802.7 C610.7 803.4 605.6 804.0 603.1 804.4 C600.6 804.9 598.8 804.7 597.8 805.3 C596.7 805.9 597.9 807.9 596.9 808.0 C595.9 808.1 593.3 806.5 591.6 806.2 C589.8 805.9 587.4 805.8 586.2 806.2 C585.0 806.7 584.3 807.7 584.4 808.9 C584.6 810.1 586.2 811.9 587.1 813.3 C588.0 814.8 588.9 816.3 589.8 817.8 C590.7 819.3 593.0 821.3 592.4 822.2 C591.9 823.1 589.6 822.8 586.2 823.1 C582.8 823.4 575.0 824.3 572.0 824.0 C569.0 823.7 568.3 822.5 568.4 821.3 C568.6 820.1 571.3 818.1 572.9 816.9 C574.5 815.7 577.6 815.7 578.2 814.2 C578.8 812.7 577.2 809.2 576.4 808.0 C575.7 806.8 574.5 807.9 573.8 807.1 C573.0 806.4 573.8 804.6 572.0 803.6 C570.2 802.5 564.9 801.8 563.1 800.9 C561.3 800.0 562.5 798.8 561.3 798.2 C560.1 797.6 557.5 796.9 556.0 797.3 C554.5 797.8 553.0 799.3 552.4 800.9 C551.9 802.5 552.4 806.1 552.4 807.1"/>
<path d="M723.1 766.6 C723.6 765.4 726.3 765.0 727.6 765.3 C728.8 765.6 730.4 767.2 730.6 768.4 C730.8 769.5 729.7 771.8 728.8 772.4 C727.9 773.1 725.8 773.4 724.9 772.4 C723.9 771.5 722.7 767.8 723.1 766.6Z"/>
<path d="M580.9 762.7 C581.3 763.4 583.7 765.6 583.6 767.1 C583.4 768.6 580.6 770.8 580.0 771.6"/>
<path d="M586.6 760.9 C587.3 761.6 590.7 764.1 590.7 765.3 C590.7 766.5 587.3 768.7 586.6 768.0 C585.9 767.3 586.6 762.1 586.6 760.9"/>
<path d="M520.0 825.1 C522.4 823.3 530.1 817.4 534.2 814.4 C538.4 811.5 541.6 809.1 544.9 807.3 C548.1 805.6 552.3 804.4 553.8 803.8"/>
<path d="M520.0 832.2 C521.2 834.0 526.5 839.3 527.1 842.9 C527.7 846.4 522.4 850.6 523.6 853.6 C524.7 856.5 530.1 859.8 534.2 860.7 C538.4 861.6 545.2 857.7 548.4 858.9 C551.7 860.1 552.9 866.3 553.8 867.8"/>
<path d="M785.1 603.6 C785.6 604.7 787.6 608.0 787.8 610.7 C787.9 613.3 786.7 616.3 786.0 619.6 C785.3 622.8 783.6 627.0 783.3 630.2 C783.0 633.5 783.3 636.4 784.2 639.1 C785.1 641.8 787.5 643.9 788.7 646.2 C789.9 648.6 791.2 650.8 791.3 653.3 C791.5 655.9 790.9 659.0 789.6 661.3 C788.2 663.7 785.6 666.2 783.3 667.6 C781.1 668.9 778.6 669.5 776.2 669.3 C773.9 669.2 771.2 667.9 769.1 666.7 C767.0 665.5 765.6 663.7 763.8 662.2 C762.0 660.7 760.8 658.7 758.4 657.8 C756.1 656.8 752.5 656.7 749.6 656.5 C746.6 656.4 743.9 656.5 740.7 656.9 C737.4 657.2 731.8 658.4 730.0 658.7"/>
<path d="M813.6 617.8 C813.9 617.2 814.4 615.0 815.3 614.2 C816.2 613.5 817.4 613.0 818.9 613.3 C820.4 613.6 822.6 614.8 824.2 616.0 C825.9 617.2 827.2 619.0 828.7 620.4 C830.1 621.9 831.8 623.4 833.1 624.9 C834.4 626.4 835.5 627.9 836.7 629.3 C837.9 630.8 838.7 632.6 840.2 633.8 C841.7 635.0 843.8 635.7 845.6 636.4 C847.3 637.2 849.7 636.9 850.9 638.2 C852.1 639.6 852.1 642.2 852.7 644.4 C853.3 646.7 853.6 649.5 854.4 651.6 C855.3 653.6 856.2 656.0 858.0 656.9 C859.8 657.8 863.0 657.6 865.1 656.9 C867.2 656.1 868.4 653.6 870.4 652.4 C872.5 651.3 874.9 650.1 877.6 649.8 C880.2 649.4 883.5 650.4 886.4 650.3 C889.4 650.3 892.8 649.7 895.3 649.4 C897.9 649.2 899.9 648.4 901.6 648.9 C903.2 649.4 903.5 651.2 905.1 652.4 C906.7 653.7 910.0 655.9 911.0 656.5"/>
<path d="M813.6 617.8 C813.7 618.5 813.6 620.7 814.4 622.2 C815.3 623.7 817.3 625.3 818.9 626.7 C820.5 628.0 822.4 629.0 824.2 630.2 C826.0 631.4 827.9 632.4 829.6 633.8 C831.2 635.1 832.8 636.4 834.0 638.2 C835.2 640.0 836.1 642.2 836.7 644.4 C837.3 646.7 837.6 648.9 837.6 651.6 C837.6 654.2 837.1 657.5 836.7 660.4 C836.2 663.4 835.8 667.0 834.9 669.3 C834.0 671.7 832.8 673.5 831.3 674.7 C829.9 675.9 828.1 675.9 826.0 676.4 C823.9 677.0 821.6 677.2 818.9 678.2 C816.2 679.3 812.7 681.3 810.0 682.7 C807.3 684.0 805.6 685.6 802.9 686.2 C800.2 686.8 797.0 686.4 794.0 686.2 C791.0 686.1 788.1 685.3 785.1 685.3 C782.1 685.3 778.6 685.6 776.2 686.2 C773.9 686.8 773.0 687.6 770.9 688.9 C768.8 690.2 765.6 693.9 763.8 694.2 C762.0 694.5 760.7 692.1 760.2 690.7 C759.8 689.2 761.1 687.4 761.1 685.3 C761.1 683.3 761.3 680.3 760.2 678.2 C759.2 676.1 757.0 673.6 754.9 672.9 C752.8 672.1 749.9 672.6 747.8 673.8 C745.7 675.0 744.2 678.1 742.4 680.0 C740.7 681.9 739.2 684.1 737.1 685.3 C735.0 686.5 731.2 686.8 730.0 687.1"/>
<path d="M730.0 690.7 C731.5 691.0 735.9 691.6 738.9 692.4 C741.9 693.3 744.8 694.8 747.8 696.0 C750.7 697.2 753.7 698.7 756.7 699.6 C759.6 700.4 763.2 701.5 765.6 701.3 C767.9 701.2 769.1 700.1 770.9 698.7 C772.7 697.2 774.4 694.1 776.2 692.4 C778.0 690.8 779.5 689.5 781.6 688.9 C783.6 688.2 787.5 688.6 788.7 688.5"/>
<path d="M813.6 696.0 C813.3 695.1 811.8 692.4 811.8 690.7 C811.8 688.9 812.4 687.1 813.6 685.3 C814.7 683.6 818.0 680.9 818.9 680.0"/>
<path d="M754.9 704.9 C755.8 705.5 758.4 707.4 760.2 708.4 C762.0 709.5 763.5 711.0 765.6 711.1 C767.6 711.3 770.6 710.4 772.7 709.3 C774.7 708.3 775.9 706.2 778.0 704.9 C780.1 703.6 782.7 701.8 785.1 701.3 C787.5 700.9 790.6 701.3 792.2 702.2 C793.9 703.1 794.7 704.7 794.9 706.7 C795.0 708.6 793.6 711.9 793.1 713.8 C792.7 715.7 791.8 717.2 792.2 718.2 C792.7 719.3 794.4 720.1 795.8 720.0 C797.1 719.9 799.0 719.0 800.2 717.3 C801.4 715.7 801.6 712.6 802.9 710.2 C804.2 707.9 806.4 705.2 808.2 703.1 C810.0 701.0 812.1 700.1 813.6 697.8 C815.0 695.4 815.9 691.3 817.1 688.9 C818.3 686.5 819.2 685.0 820.7 683.6 C822.1 682.1 824.2 680.7 826.0 680.0 C827.8 679.3 829.7 680.0 831.3 679.1 C833.0 678.2 834.6 676.3 835.8 674.7 C837.0 673.0 837.6 671.4 838.4 669.3 C839.3 667.3 840.8 664.9 841.1 662.2 C841.4 659.6 840.7 656.0 840.2 653.3 C839.8 650.7 838.3 648.1 838.4 646.2 C838.6 644.3 839.9 642.7 841.1 641.8 C842.3 640.8 844.2 640.2 845.6 640.5 C846.9 640.8 848.2 642.0 849.1 643.6 C850.0 645.1 850.3 647.6 850.9 649.8 C851.5 652.0 851.5 655.1 852.7 656.9 C853.9 658.7 855.9 660.0 858.0 660.4 C860.1 660.9 863.0 660.1 865.1 659.6 C867.2 659.0 868.7 657.0 870.4 656.9 C872.2 656.7 874.0 657.6 875.8 658.7 C877.6 659.7 879.3 662.5 881.1 663.1 C882.9 663.7 884.7 662.7 886.4 662.2 C888.2 661.8 890.1 660.1 891.8 660.4 C893.4 660.7 894.4 663.3 896.2 664.0 C898.0 664.7 900.0 665.0 902.4 664.9 C904.9 664.7 909.6 663.4 911.0 663.1"/>
<path d="M859.8 660.4 C861.9 661.5 869.3 664.9 872.2 666.7 C875.2 668.4 875.5 670.1 877.6 671.1 C879.6 672.1 882.3 672.9 884.7 672.9 C887.0 672.9 889.4 671.9 891.8 671.1 C894.1 670.4 896.5 669.0 898.9 668.4 C901.3 667.9 904.0 667.9 906.0 667.6 C908.0 667.3 910.1 666.8 911.0 666.7"/>
<path d="M836.7 671.1 C837.0 672.3 837.3 676.1 838.4 678.2 C839.6 680.3 842.3 681.8 843.8 683.6 C845.3 685.3 846.4 687.1 847.3 688.9 C848.2 690.7 849.1 692.4 849.1 694.2 C849.1 696.0 848.2 698.4 847.3 699.6 C846.4 700.7 845.3 701.6 843.8 701.3 C842.3 701.0 840.2 699.3 838.4 697.8 C836.7 696.3 834.7 694.2 833.1 692.4 C831.5 690.7 829.9 688.7 828.7 687.1 C827.5 685.5 826.4 683.4 826.0 682.7"/>
<path d="M750.4 727.1 C751.2 726.7 753.0 724.3 754.9 724.4 C756.8 724.6 759.6 726.7 762.0 728.0 C764.4 729.3 767.0 731.4 769.1 732.4 C771.2 733.5 772.4 734.4 774.4 734.2 C776.5 734.1 779.2 731.9 781.6 731.6 C783.9 731.3 786.0 732.2 788.7 732.4 C791.3 732.7 794.9 733.4 797.6 733.0 C800.2 732.5 802.9 731.2 804.7 729.8 C806.4 728.4 807.0 725.9 808.2 724.4 C809.4 723.0 810.0 721.6 811.8 720.9 C813.6 720.1 816.5 720.4 818.9 720.0 C821.3 719.6 823.6 718.4 826.0 718.2 C828.4 718.1 830.7 718.9 833.1 719.1 C835.5 719.3 837.9 719.6 840.2 719.5 C842.6 719.3 845.3 719.2 847.3 718.2 C849.4 717.3 850.9 715.4 852.7 713.8 C854.4 712.1 856.2 710.2 858.0 708.4 C859.8 706.7 861.3 704.9 863.3 703.1 C865.4 701.3 868.7 699.6 870.4 697.8 C872.2 696.0 872.8 694.2 874.0 692.4 C875.2 690.7 875.8 688.7 877.6 687.1 C879.3 685.5 882.0 683.9 884.7 682.7 C887.3 681.5 890.9 681.0 893.6 680.0 C896.2 679.0 898.3 677.5 900.7 676.4 C903.0 675.4 906.1 674.4 907.8 673.8 C909.5 673.2 910.4 673.0 911.0 672.9"/>
<path d="M620.0 641.3 C620.7 639.1 622.4 629.6 624.0 628.0 C625.6 626.4 628.4 631.3 629.3 632.0"/>
<path d="M289.1 830.7 L292.2 826.7"/>
<path d="M293.6 832.9 L297.1 828.9"/>
<path d="M305.6 841.8 L309.1 835.6"/>
<path d="M309.1 846.2 L312.7 840.0"/>
<path d="M311.8 849.8 L318.4 844.4"/>
<path d="M319.8 853.3 L324.2 848.0"/>
<path d="M323.3 860.4 L326.9 856.9"/>
<path d="M326.9 866.7 L332.2 861.3"/>
<path d="M316.2 838.2 L319.8 841.8"/>
<path d="M322.4 848.0 L325.1 852.4"/>
<ellipse cx="303.3" cy="541.0" rx="5.0" ry="5.0" transform="rotate(0.0 303.3 541.0)"/>
<ellipse cx="780.4" cy="227.8" rx="2.5" ry="2.5" transform="rotate(0.0 780.4 227.8)"/>
<ellipse cx="780.4" cy="215.0" rx="2.1" ry="1.4" transform="rotate(0.0 780.4 215.0)"/>
<ellipse cx="804.4" cy="253.6" rx="1.4" ry="1.4" transform="rotate(0.0 804.4 253.6)"/>
<ellipse cx="804.4" cy="293.2" rx="1.4" ry="1.4" transform="rotate(0.0 804.4 293.2)"/>
<ellipse cx="863.1" cy="241.1" rx="1.4" ry="1.4" transform="rotate(0.0 863.1 241.1)"/>
<ellipse cx="863.1" cy="253.6" rx="1.4" ry="1.4" transform="rotate(0.0 863.1 253.6)"/>
<ellipse cx="863.1" cy="266.9" rx="1.4" ry="1.4" transform="rotate(0.0 863.1 266.9)"/>
<ellipse cx="863.1" cy="280.2" rx="1.4" ry="1.4" transform="rotate(0.0 863.1 280.2)"/>
<ellipse cx="863.1" cy="293.2" rx="1.4" ry="1.4" transform="rotate(0.0 863.1 293.2)"/>
<ellipse cx="824.9" cy="300.7" rx="3.9" ry="5.3" transform="rotate(30.0 824.9 300.7)"/>
<ellipse cx="823.1" cy="302.4" rx="2.1" ry="3.2" transform="rotate(30.0 823.1 302.4)"/>
<ellipse cx="898.2" cy="306.7" rx="1.7" ry="2.5" transform="rotate(0.0 898.2 306.7)"/>
<ellipse cx="431.3" cy="524.1" rx="5.0" ry="5.0" transform="rotate(0.0 431.3 524.1)"/>
<ellipse cx="458.9" cy="601.8" rx="2.3" ry="2.3" transform="rotate(0.0 458.9 601.8)"/>
<ellipse cx="376.0" cy="643.5" rx="2.1" ry="2.1" transform="rotate(0.0 376.0 643.5)"/>
<ellipse cx="687.3" cy="476.4" rx="4.4" ry="4.4" transform="rotate(0.0 687.3 476.4)"/>
<ellipse cx="724.1" cy="482.7" rx="2.3" ry="3.0" transform="rotate(0.0 724.1 482.7)"/>
<ellipse cx="594.9" cy="631.1" rx="7.5" ry="5.0" transform="rotate(-15.0 594.9 631.1)"/>
<ellipse cx="608.2" cy="634.7" rx="4.4" ry="2.5" transform="rotate(-30.0 608.2 634.7)"/>
<ellipse cx="723.9" cy="482.7" rx="2.7" ry="2.7" transform="rotate(0.0 723.9 482.7)"/>
<ellipse cx="782.2" cy="493.3" rx="3.9" ry="5.7" transform="rotate(20.0 782.2 493.3)"/>
<ellipse cx="809.4" cy="494.8" rx="5.7" ry="5.0" transform="rotate(0.0 809.4 494.8)"/>
<ellipse cx="836.4" cy="482.3" rx="5.0" ry="6.8" transform="rotate(0.0 836.4 482.3)"/>
<ellipse cx="776.9" cy="513.2" rx="8.0" ry="5.7" transform="rotate(-20.0 776.9 513.2)"/>
<ellipse cx="744.9" cy="552.0" rx="4.8" ry="6.2" transform="rotate(0.0 744.9 552.0)"/>
<ellipse cx="867.6" cy="584.5" rx="3.6" ry="3.6" transform="rotate(0.0 867.6 584.5)"/>
<ellipse cx="804.1" cy="620.8" rx="2.5" ry="2.5" transform="rotate(0.0 804.1 620.8)"/>
<ellipse cx="794.7" cy="638.2" rx="3.9" ry="3.9" transform="rotate(0.0 794.7 638.2)"/>
<ellipse cx="277.8" cy="725.0" rx="5.0" ry="2.7" transform="rotate(35.0 277.8 725.0)"/>
<ellipse cx="295.0" cy="805.0" rx="3.9" ry="2.7" transform="rotate(35.0 295.0 805.0)"/>
<ellipse cx="254.7" cy="808.0" rx="1.4" ry="1.4" transform="rotate(0.0 254.7 808.0)"/>
<ellipse cx="527.6" cy="688.4" rx="4.4" ry="4.4" transform="rotate(0.0 527.6 688.4)"/>
<ellipse cx="376.1" cy="643.6" rx="2.1" ry="2.1" transform="rotate(0.0 376.1 643.6)"/>
<ellipse cx="357.5" cy="863.1" rx="3.1" ry="2.0" transform="rotate(40.0 357.5 863.1)"/>
<ellipse cx="599.6" cy="657.2" rx="5.3" ry="5.3" transform="rotate(0.0 599.6 657.2)"/>
<ellipse cx="634.2" cy="705.4" rx="5.3" ry="5.3" transform="rotate(0.0 634.2 705.4)"/>
<ellipse cx="659.5" cy="718.2" rx="7.1" ry="7.1" transform="rotate(0.0 659.5 718.2)"/>
<ellipse cx="566.7" cy="806.2" rx="1.8" ry="1.8" transform="rotate(0.0 566.7 806.2)"/>
<ellipse cx="824.2" cy="681.4" rx="3.2" ry="2.5" transform="rotate(0.0 824.2 681.4)"/>
<ellipse cx="829.6" cy="706.7" rx="3.2" ry="4.3" transform="rotate(20.0 829.6 706.7)"/>
<ellipse cx="720.0" cy="632.5" rx="20.0" ry="15.0" transform="rotate(0.0 720.0 632.5)"/>
<ellipse cx="688.0" cy="668.0" rx="22.7" ry="16.0" transform="rotate(-5.0 688.0 668.0)"/>
</g>
<path d="M146.4 838.2 C147.7 838.1 151.7 837.9 154.2 837.5 C156.7 837.2 159.0 836.7 161.3 836.1 C163.7 835.5 166.1 834.8 168.4 834.0 C170.8 833.1 173.4 832.3 175.6 831.1 C177.7 829.9 179.8 828.5 181.2 826.8 C182.7 825.2 183.1 823.1 184.1 821.2 C185.0 819.3 186.0 817.6 186.9 815.5 C187.9 813.3 188.8 810.5 189.8 808.4 C190.7 806.2 191.4 804.3 192.6 802.7 C193.8 801.0 195.2 799.7 196.9 798.4 C198.5 797.1 200.4 795.9 202.6 794.8 C204.7 793.8 207.3 792.6 209.7 792.0 C212.1 791.4 214.4 791.4 216.8 791.3 C219.2 791.2 221.8 790.7 223.9 791.3 C226.0 791.9 228.1 793.4 229.6 794.8 C231.1 796.3 232.2 798.0 233.2 799.8 C234.1 801.6 234.5 803.7 235.3 805.5 C236.1 807.3 236.9 808.9 238.1 810.5 C239.3 812.0 241.0 813.5 242.4 814.8 C243.8 816.1 245.0 817.0 246.7 818.3 C248.3 819.6 250.5 821.3 252.4 822.6 C254.3 823.9 256.1 825.2 258.0 826.1 C259.9 827.1 261.8 827.8 263.7 828.3 C265.6 828.7 267.5 828.5 269.4 829.0 C271.3 829.5 273.0 830.3 275.1 831.1 C277.2 831.9 279.9 833.1 282.2 834.0 C284.6 834.8 287.0 835.5 289.3 836.1 C291.7 836.7 295.2 837.3 296.4 837.5 C297.7 837.7 296.3 837.2 297.1 837.5 C297.9 837.9 300.6 838.3 301.3 839.6 C302.0 840.9 301.0 843.2 301.3 845.3 C301.7 847.5 302.9 850.1 303.5 852.4 C304.1 854.8 304.1 857.7 304.9 859.6 C305.7 861.5 306.7 863.0 308.4 863.8 C310.2 864.7 313.4 864.1 315.6 864.5 C317.7 865.0 320.3 865.4 321.2 866.7 C322.2 868.0 321.2 871.4 321.2 872.4" fill="none" stroke="#000" stroke-width="6.0" stroke-linejoin="round" stroke-linecap="round" filter="url(#rough)"/>
<ellipse cx="188.4" cy="826.1" rx="5.4" ry="4.3" transform="rotate(0.0 188.4 826.1)" fill="#000"/>
<ellipse cx="249.5" cy="815.5" rx="3.1" ry="4.3" transform="rotate(20.0 249.5 815.5)" fill="#000"/>
<ellipse cx="262.3" cy="830.4" rx="5.0" ry="3.1" transform="rotate(0.0 262.3 830.4)" fill="#000"/>
<ellipse cx="270.1" cy="817.6" rx="2.0" ry="2.6" transform="rotate(0.0 270.1 817.6)" fill="#000"/>
<ellipse cx="717.4" cy="627.6" rx="3.9" ry="4.3" transform="rotate(0.0 717.4 627.6)" fill="#000"/>
<ellipse cx="682.3" cy="669.9" rx="8.3" ry="4.6" transform="rotate(-8.0 682.3 669.9)" fill="#000"/>
<ellipse cx="685.5" cy="672.0" rx="6.5" ry="3.6" transform="rotate(10.0 685.5 672.0)" fill="#000"/>
<ellipse cx="697.9" cy="673.8" rx="4.4" ry="4.9" transform="rotate(0.0 697.9 673.8)" fill="#000"/>
<ellipse cx="695.5" cy="671.5" rx="3.2" ry="2.6" transform="rotate(0.0 695.5 671.5)" fill="#000"/>
<ellipse cx="697.9" cy="660.1" rx="0.9" ry="3.4" transform="rotate(0.0 697.9 660.1)" fill="#000"/>
<ellipse cx="697.9" cy="659.6" rx="2.9" ry="1.0" transform="rotate(0.0 697.9 659.6)" fill="#000"/>
<ellipse cx="703.3" cy="667.0" rx="0.9" ry="3.6" transform="rotate(-32.0 703.3 667.0)" fill="#000"/>
<ellipse cx="339.2" cy="703.7" rx="4.0" ry="3.2" transform="rotate(0.0 339.2 703.7)" fill="#000"/>
<ellipse cx="344.8" cy="742.2" rx="3.2" ry="2.9" transform="rotate(0.0 344.8 742.2)" fill="#000"/>
<ellipse cx="804.1" cy="306.4" rx="0.9" ry="1.2" transform="rotate(0.0 804.1 306.4)" fill="#000"/>
<g font-size="12.2" fill="#000" text-anchor="middle">
<text x="374.7" y="340.4" transform="rotate(-33.0 374.7 340.4)" dy="4.3">100 m</text>
<text x="380.0" y="404.4" transform="rotate(-35.0 380.0 404.4)" dy="4.3">100 m</text>
<text x="456.4" y="369.8" transform="rotate(-10.0 456.4 369.8)" dy="4.3">100 m</text>
<text x="320.3" y="469.6" transform="rotate(54.0 320.3 469.6)" dy="4.3">100 m</text>
<text x="267.8" y="526.2" transform="rotate(-32.0 267.8 526.2)" dy="4.3">100 m</text>
<text x="560.9" y="288.2" transform="rotate(-28.0 560.9 288.2)" dy="4.3">100 m</text>
<text x="624.4" y="401.1" transform="rotate(95.0 624.4 401.1)" dy="4.3">140 m</text>
<text x="806.6" y="337.1" transform="rotate(15.0 806.6 337.1)" dy="4.3">100 m</text>
<text x="822.2" y="302.4" transform="rotate(-60.0 822.2 302.4)" dy="4.3">100m</text>
<text x="862.4" y="222.8" transform="rotate(42.0 862.4 222.8)" dy="4.3">100 m</text>
<text x="909.8" y="311.9" transform="rotate(90.0 909.8 311.9)" dy="4.3">100 m</text>
<text x="417.1" y="563.6" transform="rotate(0.0 417.1 563.6)" dy="4.3">100 m</text>
<text x="329.1" y="630.7" transform="rotate(-80.0 329.1 630.7)" dy="4.3">100 m</text>
<text x="693.6" y="557.0" transform="rotate(0.0 693.6 557.0)" dy="4.3">140 m</text>
<text x="535.3" y="594.7" transform="rotate(-80.0 535.3 594.7)" dy="4.3">100 m</text>
<text x="554.9" y="635.6" transform="rotate(65.0 554.9 635.6)" dy="4.3">100 m</text>
<text x="799.1" y="484.4" transform="rotate(-5.0 799.1 484.4)" dy="4.3">140 m</text>
<text x="857.8" y="520.0" transform="rotate(-87.0 857.8 520.0)" dy="4.3">140 m</text>
<text x="855.1" y="564.4" transform="rotate(65.0 855.1 564.4)" dy="4.3">140 m</text>
<text x="771.6" y="598.2" transform="rotate(35.0 771.6 598.2)" dy="4.3">140 m</text>
<text x="852.4" y="613.3" transform="rotate(-50.0 852.4 613.3)" dy="4.3">140 m</text>
<text x="202.2" y="716.4" transform="rotate(-85.0 202.2 716.4)" dy="4.3">100 m</text>
<text x="238.7" y="732.4" transform="rotate(50.0 238.7 732.4)" dy="4.3">140 m</text>
<text x="292.9" y="829.3" transform="rotate(60.0 292.9 829.3)" dy="4.3">70</text>
<text x="434.2" y="702.2" transform="rotate(-30.0 434.2 702.2)" dy="4.3">140 m</text>
<text x="386.2" y="786.7" transform="rotate(50.0 386.2 786.7)" dy="4.3">500 m</text>
<text x="482.2" y="786.7" transform="rotate(-35.0 482.2 786.7)" dy="4.3">800 m</text>
<text x="409.1" y="830.4" transform="rotate(-70.0 409.1 830.4)" dy="4.3">800 m</text>
<text x="493.2" y="698.7" transform="rotate(-50.0 493.2 698.7)" dy="4.3">800 m</text>
<text x="509.2" y="710.8" transform="rotate(0.0 509.2 710.8)" dy="4.3">800</text>
<text x="647.6" y="678.2" transform="rotate(10.0 647.6 678.2)" dy="4.3">140 m</text>
<text x="634.2" y="688.9" transform="rotate(3.0 634.2 688.9)" dy="4.3">300 m</text>
<text x="593.3" y="723.6" transform="rotate(88.0 593.3 723.6)" dy="4.3">800 m</text>
<text x="566.7" y="700.4" transform="rotate(52.0 566.7 700.4)" dy="4.3">400 m</text>
<text x="636.9" y="792.9" transform="rotate(-80.0 636.9 792.9)" dy="4.3">1600 m</text>
<text x="551.6" y="790.2" transform="rotate(-70.0 551.6 790.2)" dy="4.3">1600 m</text>
<text x="800.2" y="698.7" transform="rotate(10.0 800.2 698.7)" dy="4.3">500 m</text>
<text x="740.7" y="702.8" transform="rotate(0.0 740.7 702.8)" dy="4.3">800 m</text>
<text x="851.8" y="664.9" transform="rotate(20.0 851.8 664.9)" dy="4.3">800 m</text>
<text x="830.4" y="668.4" transform="rotate(-65.0 830.4 668.4)" dy="4.3">800</text>
<text x="733.0" y="740.0" transform="rotate(-25.0 733.0 740.0)" dy="4.3">1600 m</text>
<text x="705.7" y="644.5" transform="rotate(41.0 705.7 644.5)" dy="4.3">100 m</text>
<text x="671.0" y="675.8" transform="rotate(38.0 671.0 675.8)" dy="4.3">100 m</text>
<text x="612.0" y="640.0" transform="rotate(55.0 612.0 640.0)" dy="4.3">100 m</text>
</g>
<rect x="400.3" y="607.2" width="117.7" height="109.5" fill="none" stroke="#000" stroke-width="3.6"/>
</g>
<g stroke="#000" stroke-width="1" fill="none" shape-rendering="crispEdges">
<rect x="146.5" y="214.5" width="764.0" height="656.0"/>
<path d="M205.3 870.5 V878.0 M205.3 214.5 V207.0"/>
<path d="M322.8 870.5 V878.0 M322.8 214.5 V207.0"/>
<path d="M440.3 870.5 V878.0 M440.3 214.5 V207.0"/>
<path d="M557.9 870.5 V878.0 M557.9 214.5 V207.0"/>
<path d="M675.4 870.5 V878.0 M675.4 214.5 V207.0"/>
<path d="M793.0 870.5 V878.0 M793.0 214.5 V207.0"/>
<path d="M910.5 870.5 V878.0 M910.5 214.5 V207.0"/>
<path d="M146.5 870.5 H138.0 M910.5 870.5 H918.0"/>
<path d="M146.5 739.3 H138.0 M910.5 739.3 H918.0"/>
<path d="M146.5 608.1 H138.0 M910.5 608.1 H918.0"/>
<path d="M146.5 476.9 H138.0 M910.5 476.9 H918.0"/>
<path d="M146.5 345.7 H138.0 M910.5 345.7 H918.0"/>
<path d="M146.5 214.5 H138.0 M910.5 214.5 H918.0"/>
</g>
<g font-size="21.5" fill="#000">
<text x="205.3" y="902.6" text-anchor="middle">121.5</text>
<text x="322.8" y="902.6" text-anchor="middle">122</text>
<text x="440.3" y="902.6" text-anchor="middle">122.5</text>
<text x="557.9" y="902.6" text-anchor="middle">123</text>
<text x="675.4" y="902.6" text-anchor="middle">123.5</text>
<text x="793.0" y="902.6" text-anchor="middle">124</text>
<text x="910.5" y="902.6" text-anchor="middle">124.5</text>
<text x="132.3" y="877.8" text-anchor="end">25</text>
<text x="132.3" y="746.6" text-anchor="end">25.5</text>
<text x="132.3" y="615.4" text-anchor="end">26</text>
<text x="132.3" y="484.2" text-anchor="end">26.5</text>
<text x="132.3" y="353.0" text-anchor="end">27</text>
<text x="132.3" y="221.8" text-anchor="end">27.5</text>
</g>
<rect x="942.5" y="839.65" width="42.0" height="33.15" fill="url(#c1)"/>
<rect x="942.5" y="806.80" width="42.0" height="33.15" fill="#0011bb"/>
<rect x="942.5" y="773.95" width="42.0" height="33.15" fill="#0011cc"/>
<rect x="942.5" y="741.10" width="42.0" height="33.15" fill="url(#c4)"/>
<rect x="942.5" y="708.25" width="42.0" height="33.15" fill="url(#c5)"/>
<rect x="942.5" y="675.40" width="42.0" height="33.15" fill="url(#dB2)"/>
<rect x="942.5" y="642.55" width="42.0" height="33.15" fill="#00ccff"/>
<rect x="942.5" y="609.70" width="42.0" height="33.15" fill="#00ffff"/>
<rect x="942.5" y="576.85" width="42.0" height="33.15" fill="#33ffcc"/>
<rect x="942.5" y="544.00" width="42.0" height="33.15" fill="#77ee99"/>
<rect x="942.5" y="511.15" width="42.0" height="33.15" fill="url(#c11)"/>
<rect x="942.5" y="478.30" width="42.0" height="33.15" fill="url(#c12)"/>
<rect x="942.5" y="445.45" width="42.0" height="33.15" fill="#eedd11"/>
<rect x="942.5" y="412.60" width="42.0" height="33.15" fill="url(#c14)"/>
<rect x="942.5" y="379.75" width="42.0" height="33.15" fill="url(#c15)"/>
<rect x="942.5" y="346.90" width="42.0" height="33.15" fill="url(#c16)"/>
<rect x="942.5" y="314.05" width="42.0" height="33.15" fill="url(#c17)"/>
<rect x="942.5" y="281.20" width="42.0" height="33.15" fill="#ee2200"/>
<rect x="942.5" y="248.35" width="42.0" height="33.15" fill="url(#c19)"/>
<rect x="942.5" y="215.50" width="42.0" height="33.15" fill="#990000"/>
<g stroke="#000" stroke-width="1" fill="none" shape-rendering="crispEdges">
<rect x="942.5" y="215.5" width="42.0" height="657.0"/>
<path d="M935.0 872.5 H942.5 M984.5 872.5 H991.0"/>
<path d="M935.0 806.8 H942.5 M984.5 806.8 H991.0"/>
<path d="M935.0 741.1 H942.5 M984.5 741.1 H991.0"/>
<path d="M935.0 675.4 H942.5 M984.5 675.4 H991.0"/>
<path d="M935.0 609.7 H942.5 M984.5 609.7 H991.0"/>
<path d="M935.0 544.0 H942.5 M984.5 544.0 H991.0"/>
<path d="M935.0 478.3 H942.5 M984.5 478.3 H991.0"/>
<path d="M935.0 412.6 H942.5 M984.5 412.6 H991.0"/>
<path d="M935.0 346.9 H942.5 M984.5 346.9 H991.0"/>
<path d="M935.0 281.2 H942.5 M984.5 281.2 H991.0"/>
<path d="M935.0 215.5 H942.5 M984.5 215.5 H991.0"/>
</g>
<g font-size="21.5" fill="#000">
<text x="995.9" y="879.9">1480</text>
<text x="995.9" y="814.2">1490</text>
<text x="995.9" y="748.5">1500</text>
<text x="995.9" y="682.8">1510</text>
<text x="995.9" y="617.1">1520</text>
<text x="995.9" y="551.4">1530</text>
<text x="995.9" y="485.7">1540</text>
<text x="995.9" y="420.0">1550</text>
<text x="995.9" y="354.3">1560</text>
<text x="995.9" y="288.6">1570</text>
<text x="995.9" y="222.9">1580</text>
</g>
<text transform="translate(1070.8 665.4) rotate(-90)" font-size="21.2" textLength="244.8" lengthAdjust="spacingAndGlyphs">Modal phase speed (m/s)</text>
<g font-size="37.1" fill="#000" lengthAdjust="spacingAndGlyphs">
<text x="154.0" y="110.5" textLength="567">Mode 1 phase speed at 900.00 Hz</text>
<text x="129.6" y="151.9" textLength="654.5">21:00 20/Aug UTC (05:00 21/Aug CST)</text>
<text x="113.4" y="194" textLength="825.5">isobath lines: 100, 140, 300, 500, 800 and 1600 m</text>
</g>
<text x="461.7" y="935.3" font-size="28.3" textLength="129.8" lengthAdjust="spacingAndGlyphs">Longitude</text>
<text transform="translate(74.9 594.6) rotate(-90)" font-size="28.3" textLength="103.2" lengthAdjust="spacingAndGlyphs">Latitude</text>
</svg>
</body></html>
